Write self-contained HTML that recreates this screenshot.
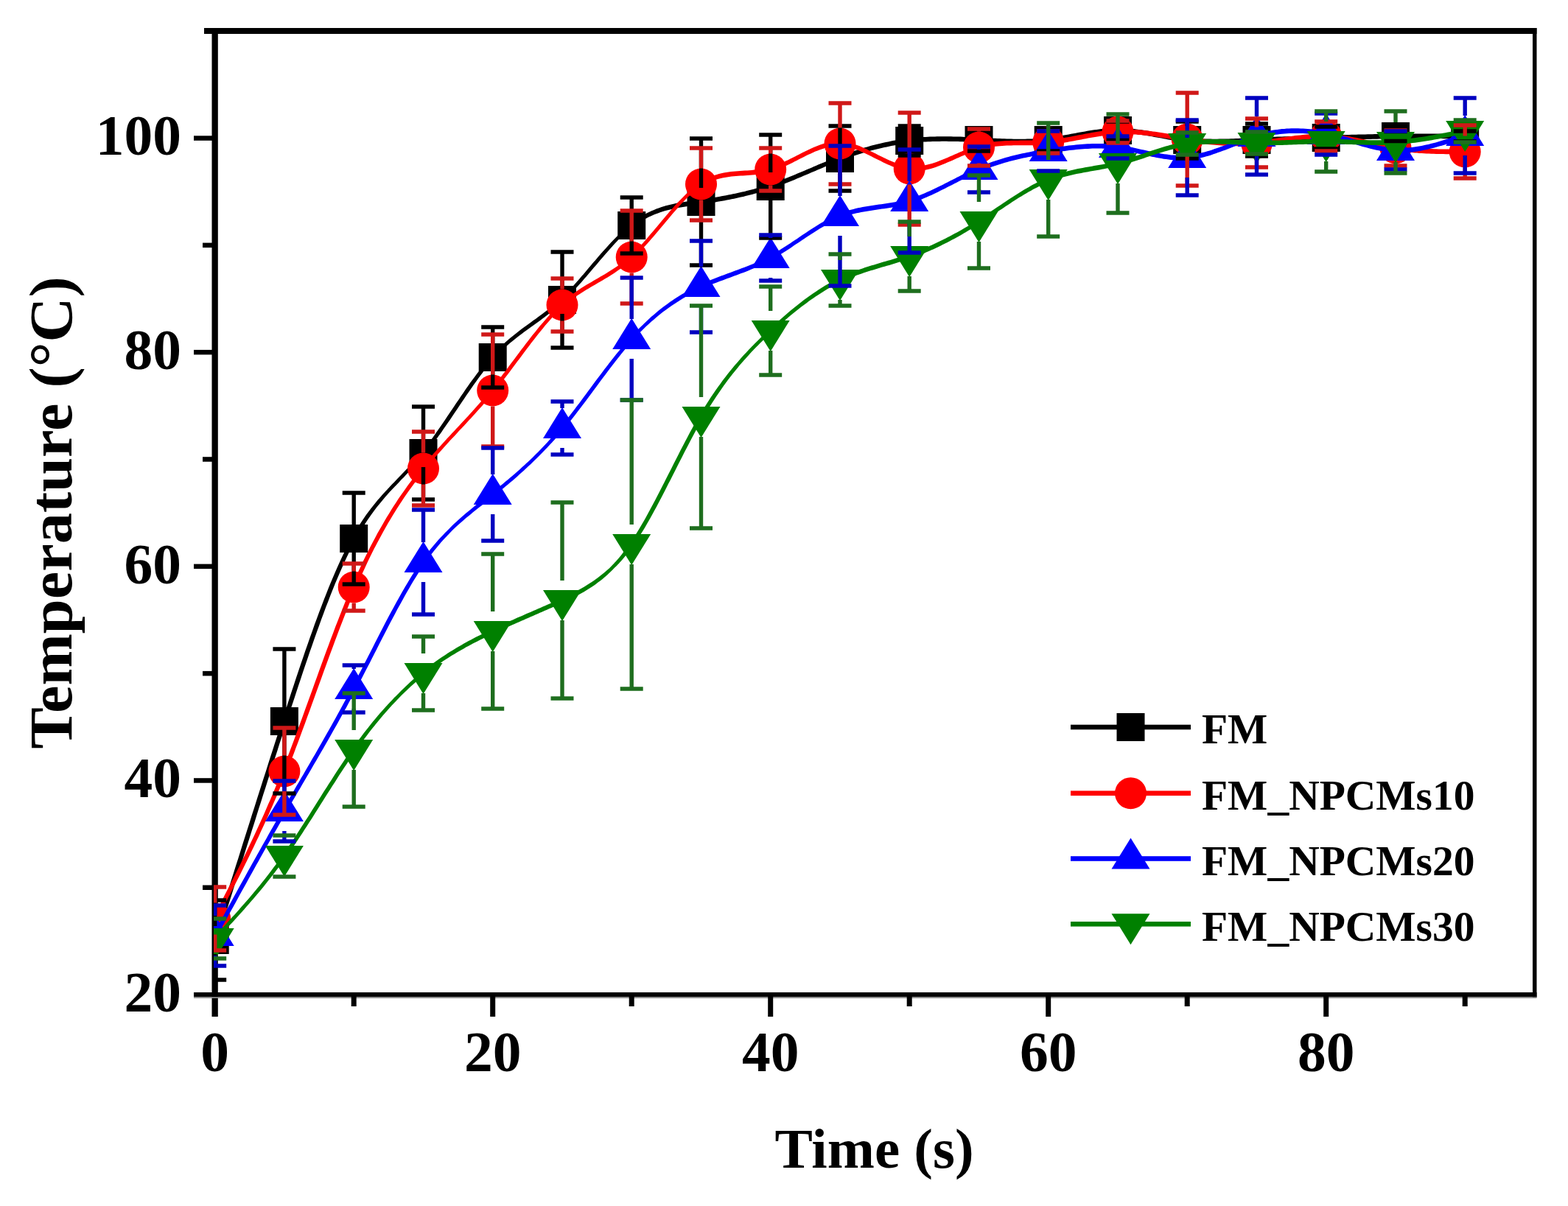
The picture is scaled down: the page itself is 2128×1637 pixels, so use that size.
<!DOCTYPE html><html><head><meta charset="utf-8"><style>html,body{margin:0;padding:0;background:#fff;overflow:hidden}svg{display:block}</style></head><body><svg width="2128" height="1637" viewBox="0 0 2128 1637"><rect width="2128" height="1637" fill="#fff"/><g fill="#000">
<rect x="287.5" y="38" width="8.3" height="1342"/>
<rect x="277" y="38" width="1808.5" height="8"/>
<rect x="2080" y="38" width="5.5" height="1316"/>
<rect x="263" y="1347" width="1822.5" height="6.2"/>
<rect x="263" y="1353.2" width="1822.5" height="1.8" fill="#8a8a8a"/>
<rect x="263" y="1056.2" width="26" height="6.5"/>
<rect x="263" y="765.6" width="26" height="6.5"/>
<rect x="263" y="474.9" width="26" height="6.5"/>
<rect x="263" y="184.3" width="26" height="6.5"/>
<rect x="275" y="1201.5" width="14" height="6.5"/>
<rect x="275" y="910.9" width="14" height="6.5"/>
<rect x="275" y="620.2" width="14" height="6.5"/>
<rect x="275" y="329.6" width="14" height="6.5"/>
<rect x="665.2" y="1350" width="7" height="30"/>
<rect x="1042.2" y="1350" width="7" height="30"/>
<rect x="1419.2" y="1350" width="7" height="30"/>
<rect x="1796.2" y="1350" width="7" height="30"/>
<rect x="476.7" y="1350" width="7" height="16"/>
<rect x="853.7" y="1350" width="7" height="16"/>
<rect x="1230.7" y="1350" width="7" height="16"/>
<rect x="1607.7" y="1350" width="7" height="16"/>
<rect x="1984.7" y="1350" width="7" height="16"/>
</g>
<defs><clipPath id="pc"><rect x="290.0" y="42.0" width="1792.5" height="1308.0"/></clipPath></defs>
<g clip-path="url(#pc)">
<path d="M294.7,1276.9 L297.8,1266.9 L301.0,1256.9 L304.1,1246.9 L307.3,1236.9 L310.4,1226.9 L313.6,1217.0 L316.7,1207.0 L319.8,1197.0 L323.0,1187.0 L326.1,1177.0 L329.3,1167.1 L332.4,1157.1 L335.5,1147.2 L338.7,1137.2 L341.8,1127.3 L345.0,1117.4 L348.1,1107.5 L351.2,1097.6 L354.4,1087.7 L357.5,1077.8 L360.7,1068.0 L363.8,1058.1 L367.0,1048.3 L370.1,1038.5 L373.2,1028.7 L376.4,1018.9 L379.5,1009.1 L382.7,999.4 L385.8,989.7 L388.9,980.0 L392.1,970.3 L395.2,960.6 L398.4,951.0 L401.5,941.4 L404.6,931.9 L407.8,922.4 L410.9,913.1 L414.0,903.7 L417.2,894.5 L420.3,885.3 L423.5,876.3 L426.6,867.3 L429.7,858.5 L432.9,849.7 L436.0,841.1 L439.1,832.7 L442.2,824.3 L445.4,816.2 L448.5,808.1 L451.6,800.3 L454.7,792.6 L457.9,785.1 L461.0,777.8 L464.1,770.7 L467.2,763.7 L470.3,757.0 L473.4,750.5 L476.5,744.2 L479.6,738.2 L482.7,732.4 L485.8,726.8 L488.9,721.5 L492.0,716.4 L495.1,711.5 L498.2,706.8 L501.3,702.2 L504.3,697.9 L507.4,693.7 L510.5,689.6 L513.6,685.7 L516.7,681.9 L519.8,678.2 L522.9,674.6 L526.0,671.1 L529.1,667.6 L532.2,664.3 L535.3,660.9 L538.5,657.7 L541.6,654.4 L544.7,651.1 L547.9,647.9 L551.0,644.6 L554.2,641.3 L557.4,638.0 L560.5,634.6 L563.7,631.2 L566.9,627.7 L570.1,624.1 L573.2,620.4 L576.4,616.6 L579.6,612.7 L582.8,608.7 L586.0,604.5 L589.2,600.3 L592.3,596.0 L595.5,591.6 L598.7,587.2 L601.8,582.6 L605.0,578.1 L608.1,573.5 L611.3,568.9 L614.4,564.2 L617.6,559.5 L620.7,554.9 L623.8,550.2 L627.0,545.5 L630.1,540.9 L633.2,536.3 L636.4,531.7 L639.5,527.2 L642.6,522.8 L645.7,518.4 L648.9,514.1 L652.0,509.8 L655.1,505.7 L658.2,501.6 L661.3,497.7 L664.4,493.9 L667.4,490.2 L670.5,486.6 L673.6,483.2 L676.7,479.9 L679.8,476.8 L682.9,473.8 L686.1,471.0 L689.2,468.2 L692.3,465.5 L695.5,462.9 L698.6,460.4 L701.7,457.9 L704.9,455.5 L708.0,453.2 L711.1,450.8 L714.3,448.5 L717.4,446.3 L720.5,444.0 L723.7,441.7 L726.8,439.5 L730.0,437.2 L733.1,434.9 L736.3,432.5 L739.4,430.2 L742.6,427.7 L745.7,425.3 L748.9,422.7 L752.0,420.1 L755.2,417.4 L758.3,414.6 L761.5,411.7 L764.6,408.7 L767.7,405.6 L770.9,402.5 L774.1,399.2 L777.3,395.9 L780.5,392.5 L783.6,389.0 L786.8,385.5 L790.0,381.9 L793.1,378.3 L796.3,374.7 L799.4,371.0 L802.6,367.3 L805.7,363.6 L808.9,359.9 L812.0,356.2 L815.1,352.5 L818.2,348.9 L821.4,345.3 L824.5,341.7 L827.6,338.2 L830.7,334.7 L833.8,331.3 L836.9,328.0 L840.0,324.8 L843.1,321.7 L846.3,318.7 L849.4,315.8 L852.6,313.1 L855.7,310.5 L858.8,308.0 L861.9,305.7 L865.0,303.6 L868.1,301.5 L871.2,299.6 L874.3,297.8 L877.4,296.2 L880.5,294.6 L883.6,293.2 L886.7,291.8 L889.8,290.5 L892.8,289.4 L895.9,288.3 L899.0,287.3 L902.1,286.3 L905.2,285.5 L908.3,284.7 L911.4,283.9 L914.4,283.2 L917.5,282.6 L920.6,282.0 L923.7,281.4 L926.9,280.9 L930.0,280.4 L933.1,279.9 L936.2,279.4 L939.3,279.0 L942.5,278.5 L945.6,278.1 L948.8,277.7 L951.9,277.2 L955.1,276.8 L958.2,276.3 L961.4,275.9 L964.5,275.4 L967.7,274.9 L970.8,274.4 L974.0,273.8 L977.1,273.3 L980.3,272.7 L983.5,272.2 L986.6,271.6 L989.8,271.0 L992.9,270.3 L996.1,269.7 L999.3,269.0 L1002.4,268.3 L1005.6,267.6 L1008.7,266.9 L1011.9,266.1 L1015.1,265.3 L1018.2,264.5 L1021.4,263.7 L1024.6,262.8 L1027.7,261.9 L1030.9,261.0 L1034.0,260.0 L1037.2,259.1 L1040.4,258.1 L1043.5,257.0 L1046.7,256.0 L1049.9,254.9 L1053.0,253.7 L1056.2,252.6 L1059.4,251.4 L1062.5,250.2 L1065.7,249.0 L1068.8,247.7 L1072.0,246.5 L1075.1,245.2 L1078.3,243.9 L1081.4,242.6 L1084.6,241.3 L1087.7,239.9 L1090.9,238.6 L1094.0,237.3 L1097.2,235.9 L1100.3,234.6 L1103.4,233.2 L1106.6,231.9 L1109.7,230.6 L1112.9,229.2 L1116.0,227.9 L1119.1,226.6 L1122.3,225.3 L1125.4,224.0 L1128.5,222.8 L1131.7,221.5 L1134.8,220.3 L1137.9,219.1 L1141.0,217.9 L1144.2,216.7 L1147.3,215.6 L1150.4,214.5 L1153.5,213.4 L1156.7,212.3 L1159.8,211.3 L1162.9,210.2 L1166.0,209.2 L1169.2,208.3 L1172.3,207.3 L1175.4,206.4 L1178.5,205.5 L1181.6,204.6 L1184.8,203.8 L1187.9,203.0 L1191.0,202.2 L1194.1,201.5 L1197.2,200.7 L1200.3,200.0 L1203.5,199.4 L1206.6,198.7 L1209.7,198.1 L1212.8,197.5 L1215.9,197.0 L1219.0,196.4 L1222.1,195.9 L1225.2,195.5 L1228.4,195.0 L1231.5,194.6 L1234.6,194.3 L1237.7,193.9 L1240.8,193.6 L1243.9,193.3 L1247.0,193.1 L1250.1,192.8 L1253.3,192.6 L1256.4,192.4 L1259.5,192.3 L1262.6,192.2 L1265.7,192.1 L1268.8,192.0 L1272.0,191.9 L1275.1,191.9 L1278.2,191.8 L1281.3,191.8 L1284.4,191.8 L1287.6,191.9 L1290.7,191.9 L1293.8,192.0 L1297.0,192.0 L1300.1,192.1 L1303.2,192.2 L1306.3,192.3 L1309.5,192.4 L1312.6,192.6 L1315.7,192.7 L1318.9,192.8 L1322.0,193.0 L1325.1,193.1 L1328.3,193.3 L1331.4,193.5 L1334.6,193.6 L1337.7,193.8 L1340.8,193.9 L1344.0,194.1 L1347.1,194.2 L1350.3,194.4 L1353.4,194.5 L1356.6,194.7 L1359.7,194.8 L1362.9,194.9 L1366.0,195.0 L1369.2,195.1 L1372.4,195.2 L1375.5,195.3 L1378.7,195.3 L1381.8,195.3 L1385.0,195.3 L1388.2,195.3 L1391.3,195.3 L1394.5,195.2 L1397.7,195.1 L1400.8,195.0 L1404.0,194.8 L1407.2,194.7 L1410.4,194.5 L1413.5,194.2 L1416.7,193.9 L1419.9,193.6 L1423.1,193.3 L1426.3,192.9 L1429.4,192.4 L1432.6,192.0 L1435.8,191.5 L1438.9,191.0 L1442.1,190.5 L1445.3,189.9 L1448.4,189.3 L1451.6,188.8 L1454.7,188.2 L1457.8,187.6 L1461.0,187.0 L1464.1,186.5 L1467.3,185.9 L1470.4,185.3 L1473.5,184.8 L1476.6,184.2 L1479.8,183.7 L1482.9,183.2 L1486.0,182.8 L1489.1,182.4 L1492.2,182.0 L1495.3,181.6 L1498.4,181.3 L1501.5,181.0 L1504.6,180.7 L1507.7,180.6 L1510.8,180.4 L1513.9,180.3 L1516.9,180.3 L1520.0,180.3 L1523.1,180.4 L1526.2,180.6 L1529.3,180.8 L1532.4,181.0 L1535.5,181.3 L1538.6,181.6 L1541.7,182.0 L1544.8,182.4 L1547.9,182.8 L1551.0,183.3 L1554.1,183.8 L1557.3,184.3 L1560.4,184.8 L1563.5,185.3 L1566.6,185.9 L1569.8,186.5 L1572.9,187.1 L1576.1,187.6 L1579.2,188.2 L1582.3,188.8 L1585.5,189.4 L1588.7,189.9 L1591.8,190.5 L1595.0,191.0 L1598.1,191.5 L1601.3,192.0 L1604.5,192.4 L1607.6,192.9 L1610.8,193.3 L1614.0,193.6 L1617.2,193.9 L1620.4,194.2 L1623.5,194.4 L1626.7,194.6 L1629.9,194.8 L1633.1,195.0 L1636.2,195.1 L1639.4,195.2 L1642.6,195.2 L1645.7,195.3 L1648.9,195.3 L1652.1,195.3 L1655.2,195.2 L1658.4,195.2 L1661.5,195.1 L1664.7,195.1 L1667.9,195.0 L1671.0,194.9 L1674.2,194.7 L1677.3,194.6 L1680.5,194.5 L1683.6,194.3 L1686.8,194.2 L1689.9,194.0 L1693.0,193.9 L1696.2,193.7 L1699.3,193.6 L1702.5,193.4 L1705.6,193.3 L1708.7,193.2 L1711.9,193.0 L1715.0,192.9 L1718.2,192.7 L1721.3,192.6 L1724.4,192.5 L1727.6,192.4 L1730.7,192.3 L1733.8,192.2 L1737.0,192.1 L1740.1,191.9 L1743.3,191.8 L1746.4,191.7 L1749.5,191.6 L1752.7,191.6 L1755.8,191.5 L1759.0,191.4 L1762.1,191.3 L1765.2,191.2 L1768.4,191.1 L1771.5,191.0 L1774.7,190.9 L1777.8,190.9 L1780.9,190.8 L1784.1,190.7 L1787.2,190.6 L1790.4,190.5 L1793.5,190.5 L1796.6,190.4 L1799.8,190.3 L1802.9,190.2 L1806.1,190.1 L1809.2,190.1 L1812.4,190.0 L1815.5,189.9 L1818.6,189.8 L1821.8,189.7 L1824.9,189.7 L1828.1,189.6 L1831.2,189.5 L1834.3,189.4 L1837.5,189.3 L1840.6,189.3 L1843.8,189.2 L1846.9,189.1 L1850.0,189.1 L1853.2,189.0 L1856.3,188.9 L1859.5,188.9 L1862.6,188.8 L1865.7,188.7 L1868.9,188.7 L1872.0,188.6 L1875.2,188.6 L1878.3,188.5 L1881.4,188.5 L1884.6,188.4 L1887.7,188.4 L1890.8,188.3 L1894.0,188.3 L1897.2,188.3 L1900.5,188.2 L1903.7,188.2 L1907.0,188.2 L1910.2,188.2 L1913.5,188.1 L1916.7,188.1 L1920.0,188.1 L1923.2,188.1 L1926.5,188.1 L1929.7,188.1 L1933.0,188.1 L1936.2,188.1 L1939.4,188.1 L1942.7,188.1 L1945.9,188.1 L1949.2,188.1 L1952.4,188.1 L1955.7,188.1 L1958.9,188.2 L1962.2,188.2 L1965.4,188.2 L1968.7,188.2 L1971.9,188.2 L1975.2,188.2 L1978.4,188.2 L1981.7,188.3 L1984.9,188.3 L1988.2,188.3 L1988.2,181.7 L1985.0,181.7 L1981.7,181.7 L1978.5,181.6 L1975.2,181.6 L1972.0,181.6 L1968.7,181.6 L1965.5,181.6 L1962.2,181.6 L1959.0,181.6 L1955.7,181.5 L1952.5,181.5 L1949.2,181.5 L1946.0,181.5 L1942.7,181.5 L1939.5,181.5 L1936.2,181.5 L1932.9,181.5 L1929.7,181.5 L1926.4,181.5 L1923.2,181.5 L1919.9,181.5 L1916.7,181.5 L1913.4,181.5 L1910.2,181.6 L1906.9,181.6 L1903.7,181.6 L1900.4,181.6 L1897.2,181.7 L1893.9,181.7 L1890.8,181.7 L1887.6,181.8 L1884.5,181.8 L1881.3,181.9 L1878.2,181.9 L1875.0,182.0 L1871.9,182.0 L1868.8,182.1 L1865.6,182.1 L1862.5,182.2 L1859.3,182.3 L1856.2,182.3 L1853.0,182.4 L1849.9,182.5 L1846.8,182.5 L1843.6,182.6 L1840.5,182.7 L1837.3,182.8 L1834.2,182.8 L1831.0,182.9 L1827.9,183.0 L1824.8,183.1 L1821.6,183.1 L1818.5,183.2 L1815.3,183.3 L1812.2,183.4 L1809.0,183.5 L1805.9,183.5 L1802.8,183.6 L1799.6,183.7 L1796.5,183.8 L1793.3,183.9 L1790.2,183.9 L1787.0,184.0 L1783.9,184.1 L1780.8,184.2 L1777.6,184.3 L1774.5,184.3 L1771.3,184.4 L1768.2,184.5 L1765.1,184.6 L1761.9,184.7 L1758.8,184.8 L1755.6,184.9 L1752.5,185.0 L1749.3,185.1 L1746.2,185.2 L1743.0,185.3 L1739.9,185.4 L1736.8,185.5 L1733.6,185.6 L1730.5,185.7 L1727.3,185.8 L1724.2,185.9 L1721.0,186.0 L1717.9,186.2 L1714.7,186.3 L1711.6,186.4 L1708.4,186.6 L1705.3,186.7 L1702.2,186.9 L1699.0,187.0 L1695.9,187.2 L1692.7,187.3 L1689.6,187.5 L1686.4,187.6 L1683.3,187.8 L1680.2,187.9 L1677.0,188.0 L1673.9,188.2 L1670.8,188.3 L1667.6,188.4 L1664.5,188.5 L1661.4,188.5 L1658.3,188.6 L1655.1,188.6 L1652.0,188.7 L1648.9,188.7 L1645.8,188.7 L1642.7,188.6 L1639.6,188.6 L1636.4,188.5 L1633.3,188.4 L1630.2,188.2 L1627.1,188.1 L1624.0,187.9 L1620.9,187.6 L1617.8,187.4 L1614.7,187.1 L1611.6,186.7 L1608.5,186.4 L1605.4,186.0 L1602.2,185.5 L1599.1,185.1 L1596.0,184.6 L1592.9,184.1 L1589.8,183.5 L1586.6,183.0 L1583.5,182.4 L1580.4,181.8 L1577.2,181.3 L1574.1,180.7 L1570.9,180.1 L1567.8,179.5 L1564.6,179.0 L1561.5,178.4 L1558.3,177.8 L1555.2,177.3 L1552.0,176.8 L1548.8,176.3 L1545.7,175.9 L1542.5,175.5 L1539.3,175.1 L1536.1,174.7 L1532.9,174.4 L1529.8,174.2 L1526.6,174.0 L1523.4,173.8 L1520.2,173.7 L1517.0,173.7 L1513.7,173.7 L1510.5,173.8 L1507.3,174.0 L1504.2,174.2 L1501.0,174.4 L1497.8,174.7 L1494.6,175.1 L1491.4,175.5 L1488.2,175.9 L1485.1,176.3 L1481.9,176.8 L1478.7,177.3 L1475.6,177.8 L1472.4,178.4 L1469.3,178.9 L1466.1,179.5 L1463.0,180.1 L1459.8,180.7 L1456.7,181.2 L1453.5,181.8 L1450.4,182.4 L1447.3,183.0 L1444.1,183.5 L1441.0,184.0 L1437.9,184.6 L1434.8,185.1 L1431.6,185.5 L1428.5,186.0 L1425.4,186.4 L1422.3,186.7 L1419.2,187.1 L1416.1,187.4 L1413.0,187.7 L1409.9,187.9 L1406.8,188.1 L1403.7,188.3 L1400.6,188.4 L1397.5,188.5 L1394.3,188.6 L1391.2,188.7 L1388.1,188.7 L1385.0,188.7 L1381.9,188.7 L1378.8,188.7 L1375.6,188.7 L1372.5,188.6 L1369.4,188.5 L1366.3,188.4 L1363.1,188.3 L1360.0,188.2 L1356.9,188.1 L1353.7,188.0 L1350.6,187.8 L1347.5,187.7 L1344.3,187.5 L1341.2,187.4 L1338.0,187.2 L1334.9,187.0 L1331.8,186.9 L1328.6,186.7 L1325.5,186.6 L1322.3,186.4 L1319.2,186.3 L1316.0,186.1 L1312.9,186.0 L1309.7,185.9 L1306.6,185.7 L1303.4,185.6 L1300.3,185.5 L1297.1,185.4 L1294.0,185.4 L1290.8,185.3 L1287.6,185.3 L1284.5,185.2 L1281.3,185.2 L1278.2,185.2 L1275.0,185.3 L1271.8,185.3 L1268.7,185.4 L1265.5,185.5 L1262.3,185.6 L1259.2,185.7 L1256.0,185.9 L1252.8,186.0 L1249.7,186.3 L1246.5,186.5 L1243.3,186.8 L1240.2,187.1 L1237.0,187.4 L1233.8,187.7 L1230.6,188.1 L1227.5,188.6 L1224.3,189.0 L1221.1,189.5 L1218.0,190.0 L1214.8,190.6 L1211.6,191.1 L1208.4,191.7 L1205.3,192.4 L1202.1,193.0 L1198.9,193.7 L1195.8,194.5 L1192.6,195.2 L1189.4,196.0 L1186.3,196.8 L1183.1,197.6 L1179.9,198.5 L1176.8,199.4 L1173.6,200.3 L1170.5,201.3 L1167.3,202.2 L1164.1,203.2 L1161.0,204.3 L1157.8,205.3 L1154.7,206.4 L1151.5,207.5 L1148.3,208.6 L1145.2,209.8 L1142.0,210.9 L1138.9,212.1 L1135.7,213.3 L1132.5,214.6 L1129.4,215.8 L1126.2,217.1 L1123.1,218.4 L1119.9,219.7 L1116.8,221.0 L1113.6,222.3 L1110.5,223.6 L1107.3,225.0 L1104.2,226.3 L1101.1,227.7 L1097.9,229.0 L1094.8,230.3 L1091.6,231.7 L1088.5,233.0 L1085.4,234.3 L1082.2,235.6 L1079.1,236.9 L1076.0,238.2 L1072.8,239.5 L1069.7,240.8 L1066.6,242.0 L1063.4,243.2 L1060.3,244.4 L1057.2,245.6 L1054.1,246.8 L1050.9,247.9 L1047.8,249.0 L1044.7,250.0 L1041.6,251.1 L1038.5,252.1 L1035.3,253.1 L1032.2,254.0 L1029.1,254.9 L1026.0,255.8 L1022.9,256.7 L1019.7,257.5 L1016.6,258.3 L1013.5,259.1 L1010.4,259.9 L1007.3,260.6 L1004.1,261.3 L1001.0,262.0 L997.9,262.7 L994.8,263.3 L991.7,264.0 L988.5,264.6 L985.4,265.2 L982.3,265.8 L979.2,266.3 L976.0,266.9 L972.9,267.4 L969.8,267.9 L966.6,268.4 L963.5,268.9 L960.4,269.4 L957.3,269.9 L954.1,270.3 L951.0,270.8 L947.9,271.2 L944.7,271.6 L941.6,272.1 L938.4,272.5 L935.3,273.0 L932.1,273.4 L928.9,273.9 L925.8,274.4 L922.6,275.0 L919.4,275.6 L916.2,276.2 L913.1,276.9 L909.9,277.7 L906.7,278.5 L903.5,279.3 L900.3,280.3 L897.1,281.3 L893.9,282.4 L890.7,283.6 L887.5,284.9 L884.3,286.3 L881.1,287.8 L877.9,289.3 L874.7,291.1 L871.5,292.9 L868.3,294.8 L865.1,296.9 L861.9,299.1 L858.8,301.5 L855.6,304.0 L852.4,306.6 L849.3,309.3 L846.1,312.2 L843.0,315.2 L839.8,318.3 L836.7,321.5 L833.5,324.7 L830.3,328.0 L827.1,331.4 L824.0,334.9 L820.8,338.4 L817.6,342.0 L814.5,345.6 L811.3,349.3 L808.2,352.9 L805.0,356.6 L801.9,360.3 L798.7,364.0 L795.6,367.7 L792.5,371.4 L789.3,375.1 L786.2,378.7 L783.1,382.2 L780.0,385.8 L776.9,389.2 L773.8,392.6 L770.7,395.9 L767.6,399.2 L764.4,402.3 L761.3,405.3 L758.2,408.1 L755.0,410.9 L751.9,413.6 L748.8,416.2 L745.6,418.7 L742.5,421.2 L739.4,423.6 L736.2,426.0 L733.1,428.3 L730.0,430.6 L726.8,432.9 L723.7,435.1 L720.5,437.4 L717.4,439.7 L714.3,441.9 L711.1,444.2 L708.0,446.6 L704.8,449.0 L701.7,451.4 L698.5,453.9 L695.4,456.4 L692.2,459.0 L689.1,461.7 L685.9,464.5 L682.8,467.4 L679.6,470.4 L676.5,473.5 L673.3,476.6 L670.1,479.9 L666.9,483.4 L663.7,486.9 L660.5,490.6 L657.3,494.5 L654.1,498.4 L650.9,502.5 L647.7,506.7 L644.6,510.9 L641.4,515.2 L638.2,519.6 L635.1,524.1 L631.9,528.6 L628.8,533.2 L625.6,537.8 L622.5,542.5 L619.3,547.1 L616.2,551.8 L613.0,556.5 L609.9,561.1 L606.7,565.8 L603.6,570.4 L600.5,575.0 L597.4,579.6 L594.2,584.1 L591.1,588.5 L588.0,592.9 L584.9,597.2 L581.8,601.4 L578.7,605.5 L575.6,609.5 L572.5,613.4 L569.4,617.2 L566.3,620.8 L563.2,624.4 L560.1,627.9 L557.0,631.3 L553.8,634.7 L550.7,638.0 L547.6,641.3 L544.5,644.6 L541.3,647.8 L538.2,651.1 L535.0,654.4 L531.9,657.6 L528.7,661.0 L525.5,664.4 L522.4,667.8 L519.2,671.3 L516.0,674.9 L512.8,678.6 L509.6,682.5 L506.4,686.4 L503.2,690.5 L500.0,694.7 L496.8,699.1 L493.6,703.7 L490.4,708.5 L487.2,713.4 L484.1,718.6 L480.9,724.0 L477.7,729.6 L474.5,735.5 L471.3,741.6 L468.1,747.9 L464.9,754.5 L461.8,761.2 L458.6,768.2 L455.4,775.4 L452.3,782.7 L449.1,790.3 L445.9,798.0 L442.8,805.9 L439.6,813.9 L436.5,822.2 L433.3,830.5 L430.2,839.0 L427.0,847.6 L423.9,856.4 L420.7,865.2 L417.6,874.2 L414.4,883.3 L411.3,892.5 L408.1,901.7 L405.0,911.1 L401.8,920.5 L398.7,929.9 L395.5,939.5 L392.4,949.1 L389.3,958.7 L386.1,968.3 L383.0,978.0 L379.8,987.7 L376.7,997.5 L373.5,1007.2 L370.4,1017.0 L367.2,1026.8 L364.1,1036.6 L361.0,1046.4 L357.8,1056.2 L354.7,1066.1 L351.5,1075.9 L348.4,1085.8 L345.3,1095.7 L342.1,1105.6 L339.0,1115.5 L335.8,1125.4 L332.7,1135.3 L329.5,1145.3 L326.4,1155.2 L323.3,1165.2 L320.1,1175.1 L317.0,1185.1 L313.8,1195.1 L310.7,1205.1 L307.5,1215.1 L304.4,1225.1 L301.3,1235.1 L298.1,1245.1 L295.0,1255.1 L291.8,1265.1 L288.7,1275.1Z" fill="#000000"/>
<rect x="272.7" y="1257.0" width="38.0" height="38.0" fill="#000000"/>
<rect x="366.9" y="960.0" width="38.0" height="38.0" fill="#000000"/>
<rect x="461.2" y="712.0" width="38.0" height="38.0" fill="#000000"/>
<rect x="555.5" y="596.0" width="38.0" height="38.0" fill="#000000"/>
<rect x="649.7" y="466.0" width="38.0" height="38.0" fill="#000000"/>
<rect x="744.0" y="388.0" width="38.0" height="38.0" fill="#000000"/>
<rect x="838.2" y="287.0" width="38.0" height="38.0" fill="#000000"/>
<rect x="932.5" y="255.0" width="38.0" height="38.0" fill="#000000"/>
<rect x="1026.7" y="234.0" width="38.0" height="38.0" fill="#000000"/>
<rect x="1121.0" y="196.0" width="38.0" height="38.0" fill="#000000"/>
<rect x="1215.2" y="172.0" width="38.0" height="38.0" fill="#000000"/>
<rect x="1309.5" y="171.0" width="38.0" height="38.0" fill="#000000"/>
<rect x="1403.7" y="171.0" width="38.0" height="38.0" fill="#000000"/>
<rect x="1498.0" y="158.0" width="38.0" height="38.0" fill="#000000"/>
<rect x="1592.2" y="171.0" width="38.0" height="38.0" fill="#000000"/>
<rect x="1686.5" y="171.0" width="38.0" height="38.0" fill="#000000"/>
<rect x="1780.7" y="168.0" width="38.0" height="38.0" fill="#000000"/>
<rect x="1875.0" y="166.0" width="38.0" height="38.0" fill="#000000"/>
<rect x="1969.2" y="166.0" width="38.0" height="38.0" fill="#000000"/>
<path d="M294.3,1248.3 L297.4,1242.3 L300.6,1236.2 L303.7,1230.2 L306.9,1224.1 L310.0,1218.0 L313.2,1211.9 L316.3,1205.8 L319.5,1199.6 L322.6,1193.4 L325.8,1187.2 L328.9,1180.9 L332.1,1174.6 L335.2,1168.2 L338.4,1161.8 L341.5,1155.3 L344.7,1148.7 L347.8,1142.1 L351.0,1135.4 L354.1,1128.6 L357.3,1121.8 L360.4,1114.9 L363.6,1107.9 L366.7,1100.8 L369.9,1093.6 L373.0,1086.3 L376.2,1078.9 L379.3,1071.3 L382.5,1063.7 L385.6,1056.0 L388.8,1048.1 L392.0,1040.2 L395.1,1032.1 L398.3,1023.9 L401.4,1015.6 L404.6,1007.2 L407.7,998.8 L410.8,990.2 L414.0,981.7 L417.1,973.0 L420.3,964.4 L423.4,955.7 L426.6,947.0 L429.7,938.3 L432.9,929.6 L436.0,920.9 L439.1,912.2 L442.3,903.6 L445.4,895.0 L448.5,886.4 L451.7,877.9 L454.8,869.5 L458.0,861.1 L461.1,852.8 L464.2,844.7 L467.4,836.6 L470.5,828.6 L473.6,820.8 L476.7,813.1 L479.9,805.6 L483.0,798.2 L486.1,791.0 L489.2,783.9 L492.4,777.0 L495.5,770.2 L498.6,763.6 L501.7,757.1 L504.8,750.8 L507.9,744.6 L511.1,738.6 L514.2,732.7 L517.3,726.9 L520.4,721.2 L523.5,715.7 L526.6,710.3 L529.8,705.0 L532.9,699.8 L536.0,694.8 L539.1,689.8 L542.2,684.9 L545.3,680.2 L548.4,675.5 L551.5,671.0 L554.7,666.5 L557.8,662.2 L560.9,657.9 L564.0,653.7 L567.1,649.5 L570.2,645.5 L573.3,641.5 L576.4,637.6 L579.6,633.8 L582.7,630.0 L585.8,626.3 L588.9,622.6 L592.0,619.0 L595.1,615.5 L598.3,611.9 L601.4,608.4 L604.5,605.0 L607.7,601.5 L610.8,598.1 L613.9,594.7 L617.1,591.4 L620.2,588.0 L623.3,584.6 L626.5,581.3 L629.6,577.9 L632.8,574.5 L635.9,571.1 L639.1,567.7 L642.2,564.3 L645.4,560.8 L648.5,557.3 L651.7,553.8 L654.9,550.2 L658.0,546.6 L661.2,543.0 L664.4,539.2 L667.5,535.5 L670.7,531.6 L673.9,527.7 L677.0,523.7 L680.2,519.7 L683.3,515.6 L686.5,511.5 L689.6,507.4 L692.8,503.2 L695.9,499.0 L699.1,494.8 L702.2,490.6 L705.4,486.4 L708.5,482.2 L711.6,478.0 L714.8,473.8 L717.9,469.7 L721.0,465.6 L724.2,461.5 L727.3,457.5 L730.4,453.6 L733.5,449.7 L736.6,445.9 L739.7,442.1 L742.8,438.5 L745.9,434.9 L749.0,431.4 L752.1,428.0 L755.2,424.7 L758.3,421.6 L761.5,418.6 L764.6,415.8 L767.7,413.1 L770.9,410.6 L774.0,408.1 L777.1,405.8 L780.2,403.5 L783.3,401.3 L786.5,399.3 L789.6,397.2 L792.7,395.3 L795.8,393.3 L799.0,391.5 L802.1,389.6 L805.2,387.8 L808.4,386.0 L811.5,384.1 L814.7,382.3 L817.8,380.5 L820.9,378.6 L824.1,376.7 L827.3,374.8 L830.4,372.7 L833.6,370.7 L836.7,368.5 L839.9,366.3 L843.1,364.0 L846.2,361.6 L849.4,359.1 L852.5,356.4 L855.7,353.7 L858.8,350.8 L862.0,347.8 L865.1,344.6 L868.3,341.4 L871.5,338.1 L874.7,334.7 L877.9,331.2 L881.1,327.7 L884.2,324.0 L887.4,320.4 L890.5,316.7 L893.7,312.9 L896.8,309.2 L900.0,305.4 L903.1,301.7 L906.3,297.9 L909.4,294.2 L912.5,290.6 L915.6,286.9 L918.7,283.4 L921.8,279.9 L924.9,276.5 L928.0,273.2 L931.1,270.1 L934.2,267.0 L937.4,264.2 L940.5,261.5 L943.6,258.9 L946.8,256.5 L949.9,254.3 L953.0,252.3 L956.0,250.5 L959.1,248.9 L962.2,247.4 L965.2,246.1 L968.2,245.0 L971.3,244.0 L974.3,243.1 L977.4,242.3 L980.4,241.6 L983.5,241.0 L986.5,240.5 L989.6,240.0 L992.7,239.6 L995.8,239.3 L998.9,239.0 L1002.0,238.8 L1005.1,238.6 L1008.2,238.4 L1011.4,238.2 L1014.5,237.9 L1017.7,237.7 L1020.8,237.5 L1024.0,237.2 L1027.2,236.8 L1030.4,236.4 L1033.6,235.9 L1036.9,235.4 L1040.1,234.7 L1043.3,233.9 L1046.6,233.1 L1049.8,232.0 L1053.0,230.9 L1056.2,229.7 L1059.4,228.4 L1062.6,227.0 L1065.8,225.5 L1069.0,224.0 L1072.1,222.5 L1075.3,220.9 L1078.4,219.3 L1081.6,217.7 L1084.7,216.1 L1087.9,214.5 L1091.0,212.9 L1094.1,211.3 L1097.3,209.8 L1100.4,208.4 L1103.5,207.0 L1106.6,205.6 L1109.7,204.4 L1112.8,203.2 L1115.8,202.2 L1118.9,201.2 L1121.9,200.4 L1124.9,199.7 L1127.9,199.1 L1130.9,198.7 L1133.9,198.4 L1136.9,198.3 L1139.8,198.3 L1142.8,198.5 L1145.8,198.8 L1148.7,199.3 L1151.7,200.0 L1154.8,200.7 L1157.8,201.7 L1160.9,202.7 L1164.0,203.8 L1167.0,205.1 L1170.1,206.4 L1173.2,207.8 L1176.4,209.2 L1179.5,210.7 L1182.6,212.3 L1185.7,213.9 L1188.9,215.4 L1192.0,217.0 L1195.2,218.6 L1198.3,220.2 L1201.5,221.7 L1204.7,223.2 L1207.9,224.6 L1211.1,226.0 L1214.3,227.2 L1217.5,228.4 L1220.7,229.5 L1224.0,230.4 L1227.3,231.2 L1230.6,231.8 L1233.9,232.3 L1237.2,232.5 L1240.5,232.6 L1243.8,232.5 L1247.1,232.3 L1250.4,231.9 L1253.6,231.3 L1256.9,230.6 L1260.1,229.8 L1263.3,229.0 L1266.6,228.0 L1269.8,226.9 L1273.0,225.8 L1276.1,224.5 L1279.3,223.3 L1282.5,222.0 L1285.7,220.6 L1288.8,219.3 L1292.0,217.9 L1295.1,216.5 L1298.3,215.1 L1301.4,213.7 L1304.5,212.3 L1307.7,211.0 L1310.8,209.7 L1313.9,208.4 L1317.0,207.2 L1320.1,206.0 L1323.2,205.0 L1326.3,204.0 L1329.3,203.0 L1332.4,202.2 L1335.5,201.5 L1338.5,200.8 L1341.6,200.2 L1344.7,199.7 L1347.8,199.2 L1350.8,198.8 L1353.9,198.5 L1357.0,198.2 L1360.1,198.0 L1363.2,197.8 L1366.3,197.6 L1369.4,197.5 L1372.5,197.4 L1375.6,197.3 L1378.8,197.3 L1381.9,197.3 L1385.0,197.2 L1388.1,197.2 L1391.3,197.2 L1394.4,197.2 L1397.6,197.2 L1400.7,197.2 L1403.9,197.1 L1407.1,197.1 L1410.2,197.0 L1413.4,196.9 L1416.6,196.7 L1419.8,196.5 L1423.0,196.3 L1426.2,196.0 L1429.3,195.7 L1432.5,195.3 L1435.7,194.9 L1438.9,194.4 L1442.0,193.9 L1445.2,193.4 L1448.4,192.9 L1451.5,192.3 L1454.7,191.8 L1457.8,191.2 L1461.0,190.6 L1464.1,190.0 L1467.3,189.4 L1470.4,188.8 L1473.6,188.2 L1476.7,187.6 L1479.8,187.0 L1483.0,186.5 L1486.1,186.0 L1489.2,185.4 L1492.3,184.9 L1495.4,184.5 L1498.5,184.0 L1501.6,183.6 L1504.7,183.3 L1507.8,183.0 L1510.9,182.7 L1514.0,182.5 L1517.1,182.3 L1520.2,182.2 L1523.3,182.1 L1526.4,182.1 L1529.5,182.1 L1532.6,182.2 L1535.7,182.3 L1538.8,182.4 L1541.9,182.6 L1545.0,182.9 L1548.1,183.1 L1551.2,183.4 L1554.3,183.7 L1557.4,184.1 L1560.5,184.5 L1563.6,184.9 L1566.8,185.3 L1569.9,185.7 L1573.0,186.2 L1576.1,186.7 L1579.3,187.2 L1582.4,187.7 L1585.5,188.2 L1588.7,188.7 L1591.8,189.2 L1595.0,189.7 L1598.1,190.2 L1601.3,190.7 L1604.4,191.2 L1607.6,191.7 L1610.7,192.2 L1613.9,192.7 L1617.0,193.2 L1620.2,193.6 L1623.3,194.0 L1626.5,194.4 L1629.7,194.8 L1632.8,195.2 L1636.0,195.6 L1639.1,195.9 L1642.3,196.2 L1645.5,196.5 L1648.6,196.8 L1651.8,197.1 L1655.0,197.3 L1658.1,197.5 L1661.3,197.7 L1664.5,197.8 L1667.6,198.0 L1670.8,198.1 L1674.0,198.2 L1677.1,198.2 L1680.3,198.2 L1683.5,198.2 L1686.7,198.2 L1689.8,198.1 L1693.0,198.0 L1696.2,197.9 L1699.4,197.7 L1702.5,197.5 L1705.7,197.3 L1708.9,197.0 L1712.1,196.7 L1715.2,196.4 L1718.4,196.0 L1721.6,195.6 L1724.7,195.3 L1727.9,194.8 L1731.0,194.4 L1734.2,194.0 L1737.3,193.6 L1740.5,193.1 L1743.6,192.7 L1746.7,192.2 L1749.9,191.8 L1753.0,191.4 L1756.1,191.0 L1759.3,190.6 L1762.4,190.2 L1765.5,189.9 L1768.6,189.6 L1771.7,189.3 L1774.8,189.0 L1777.9,188.8 L1781.0,188.6 L1784.1,188.4 L1787.2,188.3 L1790.3,188.2 L1793.4,188.2 L1796.5,188.2 L1799.6,188.3 L1802.7,188.4 L1805.8,188.6 L1808.8,188.9 L1811.9,189.2 L1815.0,189.5 L1818.1,189.9 L1821.2,190.3 L1824.3,190.7 L1827.4,191.2 L1830.6,191.7 L1833.7,192.3 L1836.8,192.9 L1839.9,193.5 L1843.0,194.1 L1846.2,194.7 L1849.3,195.4 L1852.4,196.0 L1855.6,196.7 L1858.7,197.4 L1861.9,198.1 L1865.0,198.7 L1868.2,199.4 L1871.3,200.1 L1874.5,200.7 L1877.6,201.3 L1880.8,202.0 L1883.9,202.6 L1887.1,203.1 L1890.3,203.7 L1893.4,204.2 L1896.7,204.7 L1900.0,205.2 L1903.3,205.6 L1906.6,206.0 L1909.8,206.4 L1913.1,206.8 L1916.4,207.1 L1919.7,207.4 L1923.0,207.6 L1926.2,207.9 L1929.5,208.1 L1932.8,208.3 L1936.0,208.4 L1939.3,208.6 L1942.6,208.7 L1945.8,208.8 L1949.1,208.9 L1952.4,209.0 L1955.6,209.1 L1958.9,209.1 L1962.2,209.2 L1965.4,209.2 L1968.7,209.2 L1971.9,209.3 L1975.2,209.3 L1978.4,209.3 L1981.7,209.3 L1984.9,209.3 L1988.2,209.3 L1988.2,202.7 L1985.0,202.7 L1981.7,202.7 L1978.5,202.7 L1975.2,202.7 L1972.0,202.7 L1968.7,202.6 L1965.5,202.6 L1962.2,202.6 L1959.0,202.5 L1955.8,202.5 L1952.5,202.4 L1949.3,202.3 L1946.1,202.2 L1942.8,202.1 L1939.6,202.0 L1936.4,201.8 L1933.1,201.7 L1929.9,201.5 L1926.7,201.3 L1923.4,201.1 L1920.2,200.8 L1917.0,200.5 L1913.8,200.2 L1910.6,199.9 L1907.3,199.5 L1904.1,199.1 L1900.9,198.7 L1897.7,198.3 L1894.5,197.8 L1891.3,197.3 L1888.2,196.7 L1885.1,196.2 L1882.0,195.6 L1878.9,195.0 L1875.7,194.4 L1872.6,193.7 L1869.5,193.1 L1866.3,192.4 L1863.2,191.7 L1860.1,191.1 L1856.9,190.4 L1853.8,189.7 L1850.6,189.1 L1847.5,188.4 L1844.3,187.7 L1841.2,187.1 L1838.0,186.5 L1834.8,185.9 L1831.7,185.3 L1828.5,184.8 L1825.3,184.3 L1822.2,183.8 L1819.0,183.4 L1815.8,183.0 L1812.6,182.6 L1809.4,182.3 L1806.2,182.1 L1803.0,181.9 L1799.8,181.7 L1796.6,181.6 L1793.4,181.6 L1790.2,181.6 L1787.0,181.7 L1783.8,181.8 L1780.7,182.0 L1777.5,182.2 L1774.3,182.4 L1771.1,182.7 L1768.0,183.0 L1764.8,183.4 L1761.6,183.7 L1758.5,184.1 L1755.3,184.5 L1752.1,184.9 L1749.0,185.3 L1745.8,185.8 L1742.7,186.2 L1739.6,186.6 L1736.4,187.1 L1733.3,187.5 L1730.1,187.9 L1727.0,188.4 L1723.9,188.8 L1720.8,189.1 L1717.6,189.5 L1714.5,189.9 L1711.4,190.2 L1708.3,190.5 L1705.2,190.7 L1702.1,190.9 L1699.0,191.1 L1695.9,191.3 L1692.8,191.4 L1689.7,191.5 L1686.5,191.6 L1683.4,191.6 L1680.3,191.6 L1677.2,191.6 L1674.1,191.6 L1671.0,191.5 L1667.9,191.4 L1664.8,191.3 L1661.6,191.1 L1658.5,190.9 L1655.4,190.7 L1652.3,190.5 L1649.2,190.2 L1646.1,190.0 L1642.9,189.7 L1639.8,189.4 L1636.7,189.0 L1633.6,188.7 L1630.4,188.3 L1627.3,187.9 L1624.2,187.5 L1621.1,187.1 L1617.9,186.7 L1614.8,186.2 L1611.7,185.8 L1608.6,185.3 L1605.4,184.8 L1602.3,184.3 L1599.2,183.8 L1596.0,183.3 L1592.9,182.8 L1589.7,182.3 L1586.6,181.7 L1583.4,181.2 L1580.3,180.7 L1577.1,180.2 L1574.0,179.8 L1570.8,179.3 L1567.7,178.8 L1564.5,178.4 L1561.3,178.0 L1558.2,177.6 L1555.0,177.2 L1551.8,176.9 L1548.7,176.6 L1545.5,176.3 L1542.3,176.1 L1539.1,175.9 L1535.9,175.7 L1532.8,175.6 L1529.6,175.5 L1526.4,175.5 L1523.2,175.5 L1520.0,175.6 L1516.8,175.7 L1513.6,175.9 L1510.4,176.1 L1507.2,176.4 L1504.0,176.8 L1500.8,177.1 L1497.7,177.6 L1494.5,178.0 L1491.3,178.5 L1488.1,179.0 L1485.0,179.5 L1481.8,180.1 L1478.7,180.7 L1475.5,181.2 L1472.4,181.8 L1469.2,182.4 L1466.1,183.0 L1462.9,183.6 L1459.8,184.2 L1456.7,184.8 L1453.5,185.4 L1450.4,185.9 L1447.3,186.5 L1444.2,187.0 L1441.1,187.5 L1437.9,187.9 L1434.8,188.4 L1431.7,188.8 L1428.6,189.1 L1425.5,189.4 L1422.4,189.7 L1419.3,189.9 L1416.2,190.1 L1413.1,190.3 L1410.0,190.4 L1406.9,190.5 L1403.8,190.5 L1400.7,190.6 L1397.5,190.6 L1394.4,190.6 L1391.3,190.6 L1388.1,190.6 L1385.0,190.6 L1381.8,190.7 L1378.7,190.7 L1375.5,190.7 L1372.3,190.8 L1369.2,190.9 L1366.0,191.0 L1362.8,191.2 L1359.6,191.4 L1356.4,191.7 L1353.2,192.0 L1350.0,192.3 L1346.8,192.8 L1343.6,193.3 L1340.4,193.8 L1337.2,194.5 L1334.0,195.2 L1330.8,196.0 L1327.6,197.0 L1324.4,198.0 L1321.1,199.1 L1318.0,200.2 L1314.8,201.4 L1311.6,202.7 L1308.4,204.0 L1305.3,205.4 L1302.1,206.8 L1299.0,208.2 L1295.8,209.6 L1292.7,211.0 L1289.5,212.3 L1286.4,213.7 L1283.3,215.0 L1280.2,216.3 L1277.0,217.6 L1273.9,218.8 L1270.8,219.9 L1267.8,221.0 L1264.7,222.0 L1261.6,222.8 L1258.6,223.6 L1255.5,224.3 L1252.5,224.9 L1249.5,225.4 L1246.5,225.7 L1243.5,225.9 L1240.5,226.0 L1237.5,225.9 L1234.5,225.7 L1231.6,225.4 L1228.6,224.9 L1225.6,224.2 L1222.5,223.4 L1219.5,222.5 L1216.4,221.4 L1213.3,220.3 L1210.3,219.0 L1207.2,217.7 L1204.0,216.3 L1200.9,214.8 L1197.8,213.3 L1194.7,211.8 L1191.5,210.2 L1188.4,208.6 L1185.3,207.0 L1182.1,205.4 L1178.9,203.9 L1175.8,202.3 L1172.6,200.9 L1169.4,199.5 L1166.2,198.1 L1163.0,196.9 L1159.8,195.7 L1156.5,194.7 L1153.3,193.7 L1150.0,193.0 L1146.7,192.4 L1143.4,191.9 L1140.1,191.7 L1136.7,191.7 L1133.4,191.8 L1130.1,192.2 L1126.8,192.7 L1123.5,193.4 L1120.3,194.2 L1117.0,195.2 L1113.8,196.3 L1110.6,197.4 L1107.4,198.7 L1104.2,200.1 L1101.0,201.5 L1097.8,203.0 L1094.7,204.5 L1091.5,206.0 L1088.4,207.6 L1085.2,209.2 L1082.1,210.8 L1078.9,212.5 L1075.8,214.1 L1072.7,215.6 L1069.5,217.2 L1066.4,218.6 L1063.3,220.1 L1060.2,221.4 L1057.1,222.7 L1054.0,223.9 L1050.9,225.0 L1047.9,226.1 L1044.8,226.9 L1041.8,227.7 L1038.7,228.4 L1035.7,229.0 L1032.6,229.5 L1029.6,229.9 L1026.5,230.3 L1023.4,230.6 L1020.3,230.9 L1017.2,231.2 L1014.1,231.4 L1010.9,231.6 L1007.8,231.8 L1004.6,232.0 L1001.5,232.2 L998.3,232.5 L995.1,232.8 L991.9,233.1 L988.7,233.5 L985.5,234.0 L982.3,234.6 L979.0,235.3 L975.8,236.1 L972.6,237.0 L969.3,238.0 L966.1,239.2 L962.8,240.5 L959.6,242.1 L956.4,243.7 L953.2,245.6 L949.9,247.7 L946.8,249.9 L943.6,252.4 L940.4,254.9 L937.2,257.7 L934.1,260.6 L931.0,263.6 L927.8,266.7 L924.6,269.9 L921.4,273.2 L918.2,276.6 L915.1,280.1 L911.9,283.7 L908.7,287.3 L905.6,291.0 L902.4,294.7 L899.2,298.4 L896.1,302.2 L893.0,305.9 L889.8,309.7 L886.7,313.4 L883.6,317.1 L880.4,320.8 L877.3,324.4 L874.2,327.9 L871.1,331.4 L868.0,334.8 L864.9,338.1 L861.8,341.3 L858.7,344.3 L855.6,347.2 L852.4,349.9 L849.3,352.6 L846.2,355.0 L843.0,357.4 L839.9,359.7 L836.8,361.9 L833.7,364.0 L830.6,366.1 L827.4,368.0 L824.3,370.0 L821.2,371.9 L818.1,373.7 L814.9,375.6 L811.8,377.4 L808.6,379.2 L805.5,381.0 L802.4,382.9 L799.2,384.7 L796.1,386.6 L792.9,388.6 L789.7,390.5 L786.6,392.6 L783.4,394.7 L780.3,396.9 L777.1,399.2 L773.9,401.5 L770.8,404.0 L767.6,406.6 L764.5,409.3 L761.3,412.2 L758.2,415.2 L755.0,418.3 L751.8,421.4 L748.6,424.7 L745.4,428.1 L742.3,431.6 L739.1,435.2 L735.9,438.9 L732.7,442.6 L729.5,446.5 L726.4,450.4 L723.2,454.3 L720.1,458.3 L716.9,462.4 L713.7,466.5 L710.6,470.7 L707.4,474.8 L704.3,479.0 L701.1,483.2 L698.0,487.4 L694.9,491.6 L691.7,495.8 L688.6,500.0 L685.5,504.2 L682.3,508.3 L679.2,512.4 L676.1,516.5 L672.9,520.5 L669.8,524.5 L666.7,528.4 L663.6,532.2 L660.5,536.0 L657.4,539.7 L654.2,543.4 L651.1,547.0 L648.0,550.5 L644.9,554.1 L641.8,557.6 L638.6,561.0 L635.5,564.4 L632.4,567.8 L629.2,571.2 L626.1,574.6 L623.0,578.0 L619.8,581.3 L616.7,584.7 L613.5,588.1 L610.4,591.5 L607.2,594.8 L604.1,598.3 L600.9,601.7 L597.8,605.2 L594.6,608.6 L591.5,612.2 L588.3,615.7 L585.1,619.4 L582.0,623.0 L578.8,626.8 L575.6,630.5 L572.5,634.4 L569.3,638.3 L566.1,642.3 L562.9,646.3 L559.8,650.5 L556.6,654.7 L553.4,659.0 L550.3,663.4 L547.1,667.9 L543.9,672.5 L540.7,677.1 L537.6,681.9 L534.4,686.8 L531.2,691.8 L528.1,696.9 L524.9,702.1 L521.7,707.4 L518.6,712.9 L515.4,718.4 L512.2,724.1 L509.1,729.9 L505.9,735.9 L502.7,741.9 L499.6,748.2 L496.4,754.5 L493.2,761.0 L490.1,767.7 L486.9,774.5 L483.7,781.4 L480.6,788.5 L477.4,795.8 L474.3,803.2 L471.1,810.8 L467.9,818.5 L464.8,826.4 L461.6,834.4 L458.5,842.4 L455.3,850.6 L452.2,858.9 L449.0,867.3 L445.9,875.7 L442.7,884.3 L439.6,892.8 L436.4,901.4 L433.3,910.1 L430.2,918.8 L427.0,927.5 L423.9,936.2 L420.7,944.9 L417.6,953.6 L414.4,962.3 L411.3,970.9 L408.2,979.5 L405.0,988.1 L401.9,996.6 L398.8,1005.0 L395.6,1013.4 L392.5,1021.7 L389.4,1029.8 L386.2,1037.9 L383.1,1045.9 L380.0,1053.7 L376.8,1061.4 L373.7,1069.0 L370.6,1076.5 L367.5,1083.9 L364.3,1091.1 L361.2,1098.3 L358.1,1105.4 L354.9,1112.4 L351.8,1119.3 L348.7,1126.1 L345.5,1132.9 L342.4,1139.5 L339.3,1146.1 L336.1,1152.7 L333.0,1159.2 L329.9,1165.6 L326.7,1171.9 L323.6,1178.2 L320.5,1184.5 L317.3,1190.7 L314.2,1196.9 L311.1,1203.1 L307.9,1209.2 L304.8,1215.3 L301.7,1221.4 L298.5,1227.5 L295.4,1233.6 L292.2,1239.6 L289.1,1245.7Z" fill="#ff0000"/>
<circle cx="291.7" cy="1247.0" r="21.5" fill="#ff0000"/>
<circle cx="385.9" cy="1047.0" r="21.5" fill="#ff0000"/>
<circle cx="480.2" cy="797.0" r="21.5" fill="#ff0000"/>
<circle cx="574.5" cy="636.0" r="21.5" fill="#ff0000"/>
<circle cx="668.7" cy="530.0" r="21.5" fill="#ff0000"/>
<circle cx="763.0" cy="414.0" r="21.5" fill="#ff0000"/>
<circle cx="857.2" cy="349.0" r="21.5" fill="#ff0000"/>
<circle cx="951.5" cy="250.0" r="21.5" fill="#ff0000"/>
<circle cx="1045.7" cy="230.0" r="21.5" fill="#ff0000"/>
<circle cx="1140.0" cy="195.0" r="21.5" fill="#ff0000"/>
<circle cx="1234.2" cy="229.0" r="21.5" fill="#ff0000"/>
<circle cx="1328.5" cy="200.0" r="21.5" fill="#ff0000"/>
<circle cx="1422.7" cy="193.0" r="21.5" fill="#ff0000"/>
<circle cx="1517.0" cy="179.0" r="21.5" fill="#ff0000"/>
<circle cx="1611.2" cy="189.0" r="21.5" fill="#ff0000"/>
<circle cx="1705.5" cy="194.0" r="21.5" fill="#ff0000"/>
<circle cx="1799.7" cy="185.0" r="21.5" fill="#ff0000"/>
<circle cx="1894.0" cy="201.0" r="21.5" fill="#ff0000"/>
<circle cx="1988.2" cy="206.0" r="21.5" fill="#ff0000"/>
<path d="M294.2,1271.4 L297.4,1265.7 L300.5,1259.9 L303.7,1254.2 L306.8,1248.5 L309.9,1242.8 L313.1,1237.1 L316.2,1231.4 L319.4,1225.7 L322.5,1220.0 L325.6,1214.3 L328.8,1208.6 L331.9,1202.9 L335.1,1197.2 L338.2,1191.5 L341.3,1185.9 L344.5,1180.2 L347.6,1174.6 L350.8,1169.0 L353.9,1163.3 L357.0,1157.7 L360.2,1152.1 L363.3,1146.6 L366.5,1141.0 L369.6,1135.4 L372.7,1129.9 L375.9,1124.4 L379.0,1118.9 L382.2,1113.4 L385.3,1107.9 L388.4,1102.4 L391.6,1097.0 L394.7,1091.6 L397.8,1086.1 L401.0,1080.7 L404.1,1075.3 L407.3,1070.0 L410.4,1064.6 L413.5,1059.2 L416.7,1053.8 L419.8,1048.4 L423.0,1043.0 L426.1,1037.6 L429.3,1032.2 L432.4,1026.8 L435.6,1021.3 L438.7,1015.9 L441.8,1010.4 L445.0,1004.9 L448.1,999.4 L451.3,993.8 L454.4,988.3 L457.6,982.7 L460.7,977.0 L463.9,971.3 L467.0,965.6 L470.2,959.9 L473.3,954.0 L476.5,948.2 L479.6,942.3 L482.8,936.4 L485.9,930.4 L489.1,924.3 L492.2,918.2 L495.4,912.1 L498.5,906.0 L501.7,899.9 L504.8,893.7 L508.0,887.5 L511.1,881.4 L514.2,875.2 L517.4,869.1 L520.5,863.0 L523.6,856.9 L526.8,850.8 L529.9,844.8 L533.0,838.9 L536.2,833.0 L539.3,827.1 L542.4,821.4 L545.6,815.7 L548.7,810.1 L551.8,804.6 L554.9,799.2 L558.0,793.8 L561.1,788.6 L564.3,783.6 L567.4,778.6 L570.5,773.8 L573.6,769.1 L576.7,764.6 L579.8,760.2 L582.8,755.9 L585.9,751.8 L589.0,747.8 L592.1,743.9 L595.2,740.2 L598.3,736.6 L601.4,733.1 L604.5,729.7 L607.6,726.4 L610.7,723.2 L613.8,720.1 L616.9,717.1 L620.1,714.1 L623.2,711.3 L626.4,708.5 L629.5,705.8 L632.6,703.1 L635.8,700.5 L638.9,697.9 L642.0,695.3 L645.2,692.8 L648.3,690.3 L651.5,687.8 L654.6,685.4 L657.7,682.9 L660.9,680.4 L664.0,678.0 L667.2,675.5 L670.3,673.0 L673.4,670.5 L676.6,668.0 L679.7,665.5 L682.9,662.9 L686.0,660.3 L689.2,657.7 L692.3,655.0 L695.5,652.4 L698.6,649.7 L701.8,646.9 L704.9,644.1 L708.0,641.3 L711.2,638.5 L714.3,635.6 L717.5,632.6 L720.6,629.7 L723.8,626.6 L726.9,623.6 L730.0,620.4 L733.2,617.3 L736.4,614.1 L739.5,610.8 L742.7,607.5 L745.9,604.1 L749.0,600.7 L752.2,597.2 L755.4,593.7 L758.6,590.1 L761.7,586.4 L764.9,582.6 L768.1,578.8 L771.2,574.9 L774.4,571.0 L777.6,567.0 L780.7,562.9 L783.9,558.8 L787.0,554.7 L790.2,550.6 L793.3,546.4 L796.5,542.2 L799.6,537.9 L802.8,533.7 L805.9,529.5 L809.1,525.2 L812.2,521.0 L815.3,516.8 L818.5,512.6 L821.6,508.4 L824.7,504.2 L827.9,500.1 L831.0,496.0 L834.1,491.9 L837.2,487.9 L840.4,484.0 L843.5,480.1 L846.6,476.2 L849.7,472.5 L852.8,468.8 L855.9,465.2 L859.0,461.6 L862.1,458.2 L865.2,454.8 L868.3,451.6 L871.4,448.4 L874.6,445.3 L877.7,442.3 L880.8,439.4 L884.0,436.6 L887.1,433.9 L890.2,431.2 L893.4,428.6 L896.5,426.1 L899.6,423.6 L902.8,421.3 L905.9,419.0 L909.0,416.7 L912.2,414.6 L915.3,412.4 L918.4,410.4 L921.5,408.4 L924.6,406.5 L927.8,404.6 L930.9,402.8 L934.0,401.1 L937.1,399.4 L940.2,397.8 L943.4,396.2 L946.5,394.6 L949.6,393.2 L952.7,391.7 L955.8,390.3 L958.9,389.0 L962.1,387.7 L965.2,386.4 L968.3,385.1 L971.4,383.9 L974.5,382.7 L977.7,381.5 L980.8,380.4 L983.9,379.2 L987.1,378.0 L990.2,376.9 L993.4,375.8 L996.5,374.6 L999.6,373.4 L1002.8,372.3 L1005.9,371.1 L1009.1,369.9 L1012.3,368.7 L1015.4,367.4 L1018.6,366.1 L1021.7,364.8 L1024.9,363.4 L1028.1,362.0 L1031.2,360.6 L1034.4,359.1 L1037.6,357.5 L1040.8,355.9 L1043.9,354.3 L1047.1,352.5 L1050.3,350.7 L1053.4,348.9 L1056.6,347.0 L1059.7,345.0 L1062.9,343.0 L1066.1,341.0 L1069.2,338.9 L1072.4,336.9 L1075.5,334.8 L1078.6,332.6 L1081.8,330.5 L1084.9,328.4 L1088.1,326.3 L1091.2,324.2 L1094.4,322.1 L1097.5,320.0 L1100.6,317.9 L1103.8,315.9 L1106.9,313.9 L1110.0,311.9 L1113.1,310.0 L1116.3,308.2 L1119.4,306.4 L1122.5,304.6 L1125.6,303.0 L1128.7,301.4 L1131.8,299.9 L1134.9,298.4 L1138.0,297.1 L1141.1,295.8 L1144.2,294.7 L1147.2,293.6 L1150.3,292.6 L1153.4,291.7 L1156.5,290.8 L1159.6,290.1 L1162.7,289.3 L1165.8,288.7 L1168.9,288.0 L1172.0,287.4 L1175.1,286.9 L1178.2,286.4 L1181.3,285.9 L1184.4,285.4 L1187.5,285.0 L1190.7,284.5 L1193.8,284.1 L1197.0,283.6 L1200.1,283.2 L1203.3,282.7 L1206.4,282.2 L1209.6,281.7 L1212.8,281.2 L1215.9,280.6 L1219.1,280.0 L1222.3,279.3 L1225.5,278.6 L1228.7,277.8 L1231.9,277.0 L1235.1,276.0 L1238.3,275.0 L1241.5,274.0 L1244.7,272.8 L1247.9,271.6 L1251.0,270.4 L1254.2,269.1 L1257.4,267.7 L1260.6,266.3 L1263.7,264.9 L1266.9,263.4 L1270.0,261.9 L1273.2,260.4 L1276.3,258.8 L1279.5,257.3 L1282.7,255.7 L1285.8,254.1 L1288.9,252.5 L1292.1,250.9 L1295.2,249.3 L1298.4,247.7 L1301.5,246.1 L1304.6,244.5 L1307.8,242.9 L1310.9,241.4 L1314.0,239.9 L1317.2,238.4 L1320.3,236.9 L1323.4,235.5 L1326.5,234.1 L1329.6,232.8 L1332.8,231.5 L1335.9,230.3 L1339.0,229.1 L1342.1,227.9 L1345.2,226.8 L1348.3,225.7 L1351.4,224.7 L1354.5,223.7 L1357.7,222.7 L1360.8,221.8 L1363.9,220.8 L1367.0,220.0 L1370.1,219.1 L1373.2,218.3 L1376.4,217.5 L1379.5,216.8 L1382.6,216.0 L1385.7,215.3 L1388.8,214.6 L1392.0,214.0 L1395.1,213.3 L1398.2,212.7 L1401.3,212.1 L1404.5,211.5 L1407.6,210.9 L1410.7,210.4 L1413.8,209.8 L1417.0,209.3 L1420.1,208.7 L1423.2,208.2 L1426.4,207.7 L1429.5,207.2 L1432.6,206.7 L1435.8,206.2 L1438.9,205.8 L1442.0,205.3 L1445.1,204.9 L1448.3,204.5 L1451.4,204.1 L1454.5,203.7 L1457.6,203.4 L1460.7,203.1 L1463.8,202.8 L1466.9,202.5 L1470.1,202.3 L1473.2,202.1 L1476.3,201.9 L1479.4,201.7 L1482.5,201.6 L1485.6,201.6 L1488.7,201.6 L1491.8,201.6 L1494.9,201.6 L1498.0,201.7 L1501.1,201.8 L1504.2,202.0 L1507.3,202.3 L1510.3,202.5 L1513.4,202.9 L1516.5,203.2 L1519.6,203.7 L1522.7,204.2 L1525.8,204.7 L1528.9,205.2 L1532.0,205.8 L1535.1,206.5 L1538.3,207.1 L1541.4,207.8 L1544.5,208.5 L1547.7,209.2 L1550.8,209.9 L1553.9,210.6 L1557.1,211.3 L1560.3,212.0 L1563.4,212.7 L1566.6,213.3 L1569.7,214.0 L1572.9,214.6 L1576.1,215.1 L1579.3,215.7 L1582.5,216.1 L1585.7,216.5 L1588.9,216.9 L1592.1,217.2 L1595.3,217.4 L1598.5,217.6 L1601.8,217.6 L1605.0,217.6 L1608.2,217.5 L1611.5,217.3 L1614.7,217.0 L1617.9,216.5 L1621.2,216.0 L1624.4,215.4 L1627.6,214.7 L1630.8,214.0 L1634.0,213.2 L1637.2,212.3 L1640.4,211.4 L1643.6,210.4 L1646.7,209.3 L1649.9,208.2 L1653.1,207.1 L1656.2,206.0 L1659.4,204.8 L1662.6,203.7 L1665.7,202.5 L1668.9,201.3 L1672.0,200.0 L1675.1,198.8 L1678.3,197.6 L1681.4,196.5 L1684.5,195.3 L1687.7,194.1 L1690.8,193.0 L1693.9,192.0 L1697.0,190.9 L1700.1,189.9 L1703.2,189.0 L1706.3,188.0 L1709.4,187.2 L1712.5,186.4 L1715.6,185.7 L1718.7,185.0 L1721.8,184.4 L1724.9,183.8 L1728.0,183.3 L1731.1,182.8 L1734.1,182.4 L1737.2,182.0 L1740.3,181.7 L1743.4,181.4 L1746.5,181.2 L1749.6,181.0 L1752.7,180.9 L1755.8,180.9 L1758.8,180.9 L1761.9,180.9 L1765.0,181.0 L1768.1,181.1 L1771.2,181.3 L1774.3,181.5 L1777.4,181.8 L1780.5,182.2 L1783.6,182.5 L1786.7,183.0 L1789.7,183.4 L1792.8,184.0 L1795.9,184.5 L1799.0,185.2 L1802.1,185.8 L1805.2,186.5 L1808.3,187.3 L1811.5,188.1 L1814.6,188.9 L1817.7,189.7 L1820.8,190.6 L1824.0,191.5 L1827.1,192.4 L1830.2,193.3 L1833.4,194.3 L1836.5,195.2 L1839.7,196.1 L1842.8,197.0 L1846.0,198.0 L1849.1,198.9 L1852.3,199.7 L1855.4,200.6 L1858.6,201.4 L1861.8,202.2 L1865.0,203.0 L1868.1,203.7 L1871.3,204.3 L1874.5,205.0 L1877.7,205.5 L1880.9,206.0 L1884.1,206.4 L1887.3,206.8 L1890.6,207.1 L1893.8,207.3 L1897.1,207.4 L1900.5,207.4 L1903.8,207.4 L1907.1,207.3 L1910.4,207.0 L1913.8,206.8 L1917.1,206.4 L1920.4,206.0 L1923.7,205.5 L1927.0,204.9 L1930.3,204.3 L1933.6,203.6 L1936.9,202.9 L1940.2,202.1 L1943.5,201.3 L1946.8,200.5 L1950.0,199.6 L1953.3,198.6 L1956.6,197.7 L1959.9,196.7 L1963.1,195.7 L1966.4,194.6 L1969.7,193.6 L1972.9,192.5 L1976.2,191.4 L1979.5,190.3 L1982.7,189.2 L1986.0,188.1 L1989.2,187.0 L1987.2,181.0 L1983.9,182.2 L1980.7,183.3 L1977.4,184.4 L1974.2,185.5 L1971.0,186.5 L1967.7,187.6 L1964.5,188.6 L1961.3,189.6 L1958.0,190.6 L1954.8,191.6 L1951.6,192.5 L1948.4,193.4 L1945.1,194.3 L1941.9,195.1 L1938.7,195.9 L1935.5,196.6 L1932.3,197.3 L1929.1,197.9 L1925.9,198.5 L1922.7,199.0 L1919.5,199.5 L1916.3,199.9 L1913.1,200.2 L1910.0,200.5 L1906.8,200.7 L1903.6,200.8 L1900.4,200.8 L1897.3,200.8 L1894.1,200.7 L1891.1,200.5 L1888.0,200.3 L1884.9,199.9 L1881.8,199.5 L1878.8,199.1 L1875.7,198.6 L1872.6,198.0 L1869.5,197.4 L1866.4,196.7 L1863.3,196.0 L1860.2,195.2 L1857.1,194.4 L1853.9,193.6 L1850.8,192.7 L1847.7,191.9 L1844.6,191.0 L1841.4,190.0 L1838.3,189.1 L1835.2,188.2 L1832.0,187.3 L1828.9,186.3 L1825.7,185.4 L1822.6,184.5 L1819.4,183.6 L1816.2,182.7 L1813.1,181.9 L1809.9,181.1 L1806.7,180.3 L1803.5,179.5 L1800.4,178.8 L1797.2,178.2 L1794.0,177.6 L1790.8,177.0 L1787.6,176.5 L1784.4,176.1 L1781.2,175.6 L1778.0,175.3 L1774.8,175.0 L1771.7,174.7 L1768.5,174.5 L1765.3,174.4 L1762.1,174.3 L1758.9,174.3 L1755.7,174.3 L1752.5,174.3 L1749.3,174.5 L1746.1,174.6 L1742.9,174.9 L1739.7,175.1 L1736.5,175.5 L1733.3,175.9 L1730.1,176.3 L1726.9,176.8 L1723.7,177.4 L1720.5,178.0 L1717.3,178.7 L1714.1,179.4 L1711.0,180.2 L1707.8,181.0 L1704.6,182.0 L1701.4,182.9 L1698.2,183.9 L1695.0,185.0 L1691.9,186.1 L1688.7,187.2 L1685.5,188.3 L1682.4,189.5 L1679.2,190.7 L1676.1,191.9 L1672.9,193.1 L1669.8,194.3 L1666.6,195.5 L1663.5,196.7 L1660.4,197.9 L1657.3,199.0 L1654.1,200.2 L1651.0,201.3 L1647.9,202.3 L1644.8,203.4 L1641.7,204.4 L1638.6,205.3 L1635.5,206.2 L1632.4,207.0 L1629.3,207.8 L1626.2,208.4 L1623.2,209.1 L1620.1,209.6 L1617.0,210.1 L1614.0,210.4 L1610.9,210.7 L1607.9,210.9 L1604.8,211.0 L1601.8,211.0 L1598.7,211.0 L1595.7,210.8 L1592.6,210.6 L1589.5,210.4 L1586.5,210.0 L1583.4,209.6 L1580.3,209.2 L1577.2,208.7 L1574.1,208.2 L1571.0,207.6 L1567.9,207.0 L1564.7,206.4 L1561.6,205.7 L1558.5,205.0 L1555.4,204.3 L1552.2,203.6 L1549.1,202.9 L1545.9,202.2 L1542.8,201.5 L1539.6,200.8 L1536.5,200.1 L1533.3,199.5 L1530.1,198.9 L1526.9,198.3 L1523.8,197.7 L1520.6,197.2 L1517.4,196.8 L1514.2,196.4 L1511.0,196.0 L1507.8,195.7 L1504.6,195.5 L1501.4,195.3 L1498.2,195.1 L1495.0,195.0 L1491.9,195.0 L1488.7,195.0 L1485.5,195.0 L1482.3,195.1 L1479.1,195.2 L1475.9,195.3 L1472.8,195.5 L1469.6,195.7 L1466.4,195.9 L1463.2,196.2 L1460.1,196.5 L1456.9,196.9 L1453.7,197.2 L1450.6,197.6 L1447.4,198.0 L1444.3,198.4 L1441.1,198.8 L1437.9,199.3 L1434.8,199.8 L1431.6,200.3 L1428.5,200.8 L1425.3,201.3 L1422.2,201.8 L1419.0,202.3 L1415.9,202.9 L1412.7,203.4 L1409.6,204.0 L1406.4,204.5 L1403.2,205.1 L1400.1,205.7 L1396.9,206.4 L1393.8,207.0 L1390.6,207.7 L1387.5,208.3 L1384.3,209.1 L1381.1,209.8 L1378.0,210.5 L1374.8,211.3 L1371.6,212.1 L1368.5,213.0 L1365.3,213.8 L1362.1,214.8 L1359.0,215.7 L1355.8,216.7 L1352.6,217.7 L1349.5,218.7 L1346.3,219.8 L1343.1,220.9 L1339.9,222.1 L1336.8,223.3 L1333.6,224.6 L1330.4,225.9 L1327.3,227.2 L1324.1,228.6 L1320.9,230.0 L1317.8,231.5 L1314.6,233.0 L1311.4,234.5 L1308.3,236.1 L1305.1,237.6 L1302.0,239.2 L1298.8,240.8 L1295.7,242.4 L1292.6,244.0 L1289.4,245.6 L1286.3,247.2 L1283.1,248.8 L1280.0,250.4 L1276.9,252.0 L1273.7,253.5 L1270.6,255.1 L1267.5,256.5 L1264.4,258.0 L1261.2,259.4 L1258.1,260.8 L1255.0,262.2 L1251.9,263.4 L1248.8,264.7 L1245.7,265.9 L1242.6,267.0 L1239.5,268.0 L1236.4,269.0 L1233.3,270.0 L1230.2,270.8 L1227.1,271.6 L1224.0,272.3 L1221.0,273.0 L1217.9,273.6 L1214.8,274.2 L1211.7,274.8 L1208.5,275.3 L1205.4,275.8 L1202.3,276.3 L1199.2,276.7 L1196.0,277.2 L1192.9,277.6 L1189.8,278.0 L1186.6,278.5 L1183.5,279.0 L1180.3,279.4 L1177.1,280.0 L1174.0,280.5 L1170.8,281.1 L1167.6,281.7 L1164.4,282.3 L1161.2,283.1 L1158.0,283.9 L1154.8,284.7 L1151.6,285.6 L1148.4,286.6 L1145.2,287.7 L1142.0,288.9 L1138.8,290.2 L1135.6,291.5 L1132.4,293.0 L1129.2,294.5 L1126.0,296.2 L1122.9,297.8 L1119.7,299.6 L1116.5,301.4 L1113.4,303.3 L1110.2,305.2 L1107.1,307.2 L1103.9,309.2 L1100.7,311.2 L1097.6,313.3 L1094.4,315.4 L1091.3,317.5 L1088.2,319.6 L1085.0,321.7 L1081.9,323.9 L1078.7,326.0 L1075.6,328.1 L1072.5,330.2 L1069.3,332.3 L1066.2,334.3 L1063.0,336.3 L1059.9,338.3 L1056.8,340.3 L1053.7,342.1 L1050.5,344.0 L1047.4,345.8 L1044.3,347.5 L1041.2,349.1 L1038.1,350.7 L1035.0,352.2 L1031.9,353.7 L1028.7,355.1 L1025.6,356.5 L1022.5,357.9 L1019.4,359.2 L1016.3,360.5 L1013.1,361.7 L1010.0,362.9 L1006.9,364.1 L1003.8,365.3 L1000.6,366.5 L997.5,367.6 L994.4,368.8 L991.2,369.9 L988.1,371.1 L984.9,372.2 L981.8,373.4 L978.6,374.6 L975.5,375.7 L972.3,377.0 L969.2,378.2 L966.0,379.4 L962.9,380.7 L959.7,382.1 L956.5,383.4 L953.4,384.8 L950.2,386.3 L947.0,387.8 L943.9,389.3 L940.7,390.9 L937.5,392.6 L934.4,394.3 L931.2,396.1 L928.0,397.9 L924.9,399.8 L921.7,401.7 L918.5,403.7 L915.4,405.8 L912.2,407.9 L909.1,410.1 L905.9,412.4 L902.7,414.7 L899.6,417.1 L896.4,419.5 L893.3,422.1 L890.1,424.7 L887.0,427.4 L883.8,430.1 L880.7,433.0 L877.5,435.9 L874.4,438.9 L871.3,441.9 L868.1,445.1 L864.9,448.3 L861.7,451.5 L858.6,454.9 L855.4,458.4 L852.2,461.9 L849.0,465.5 L845.8,469.2 L842.7,473.0 L839.5,476.9 L836.3,480.8 L833.2,484.7 L830.0,488.7 L826.9,492.8 L823.7,496.9 L820.5,501.0 L817.4,505.2 L814.2,509.4 L811.1,513.6 L807.9,517.8 L804.8,522.1 L801.7,526.3 L798.5,530.6 L795.4,534.8 L792.2,539.0 L789.1,543.2 L786.0,547.4 L782.8,551.5 L779.7,555.7 L776.6,559.7 L773.5,563.8 L770.3,567.8 L767.2,571.7 L764.1,575.6 L761.0,579.4 L757.9,583.1 L754.8,586.8 L751.7,590.4 L748.5,593.9 L745.4,597.4 L742.3,600.9 L739.2,604.2 L736.1,607.5 L733.0,610.8 L729.9,614.0 L726.7,617.1 L723.6,620.2 L720.5,623.2 L717.3,626.2 L714.2,629.1 L711.0,632.0 L707.9,634.8 L704.8,637.7 L701.6,640.4 L698.5,643.2 L695.3,645.9 L692.2,648.5 L689.1,651.2 L685.9,653.8 L682.8,656.4 L679.7,658.9 L676.5,661.5 L673.4,664.0 L670.2,666.5 L667.1,669.0 L664.0,671.4 L660.8,673.9 L657.7,676.4 L654.5,678.8 L651.4,681.3 L648.2,683.8 L645.1,686.3 L642.0,688.8 L638.8,691.4 L635.7,694.0 L632.5,696.6 L629.4,699.3 L626.2,702.0 L623.1,704.8 L619.9,707.7 L616.8,710.6 L613.6,713.6 L610.5,716.7 L607.3,719.9 L604.2,723.1 L601.0,726.4 L597.8,729.8 L594.6,733.3 L591.4,737.0 L588.2,740.7 L585.0,744.6 L581.8,748.6 L578.6,752.7 L575.4,757.0 L572.2,761.4 L569.0,766.0 L565.9,770.8 L562.7,775.6 L559.5,780.6 L556.3,785.7 L553.2,790.9 L550.0,796.3 L546.8,801.7 L543.7,807.3 L540.5,812.9 L537.4,818.6 L534.2,824.4 L531.0,830.2 L527.9,836.1 L524.7,842.1 L521.6,848.1 L518.4,854.2 L515.3,860.3 L512.1,866.4 L509.0,872.5 L505.9,878.7 L502.7,884.9 L499.6,891.0 L496.4,897.2 L493.3,903.3 L490.2,909.5 L487.0,915.6 L483.9,921.6 L480.7,927.7 L477.6,933.6 L474.5,939.6 L471.4,945.5 L468.2,951.3 L465.1,957.1 L462.0,962.8 L458.8,968.5 L455.7,974.2 L452.6,979.8 L449.4,985.4 L446.3,991.0 L443.1,996.6 L440.0,1002.1 L436.9,1007.6 L433.7,1013.0 L430.6,1018.5 L427.5,1023.9 L424.3,1029.3 L421.2,1034.8 L418.0,1040.2 L414.9,1045.5 L411.8,1050.9 L408.6,1056.3 L405.5,1061.7 L402.3,1067.1 L399.2,1072.5 L396.1,1077.9 L392.9,1083.3 L389.8,1088.7 L386.6,1094.1 L383.5,1099.6 L380.3,1105.0 L377.2,1110.5 L374.0,1116.0 L370.9,1121.5 L367.7,1127.1 L364.6,1132.6 L361.5,1138.2 L358.3,1143.7 L355.2,1149.3 L352.0,1154.9 L348.9,1160.5 L345.7,1166.2 L342.6,1171.8 L339.4,1177.4 L336.3,1183.1 L333.2,1188.7 L330.0,1194.4 L326.9,1200.1 L323.7,1205.8 L320.6,1211.5 L317.4,1217.2 L314.3,1222.9 L311.2,1228.6 L308.0,1234.3 L304.9,1240.0 L301.7,1245.7 L298.6,1251.4 L295.4,1257.2 L292.3,1262.9 L289.2,1268.6Z" fill="#0000ff"/>
<polygon points="291.7,1242.0 317.7,1284.0 265.7,1284.0" fill="#0000ff"/>
<polygon points="385.9,1073.0 411.9,1115.0 359.9,1115.0" fill="#0000ff"/>
<polygon points="480.2,907.0 506.2,949.0 454.2,949.0" fill="#0000ff"/>
<polygon points="574.5,735.0 600.5,777.0 548.5,777.0" fill="#0000ff"/>
<polygon points="668.7,643.0 694.7,685.0 642.7,685.0" fill="#0000ff"/>
<polygon points="763.0,553.0 789.0,595.0 737.0,595.0" fill="#0000ff"/>
<polygon points="857.2,432.0 883.2,474.0 831.2,474.0" fill="#0000ff"/>
<polygon points="951.5,361.0 977.5,403.0 925.5,403.0" fill="#0000ff"/>
<polygon points="1045.7,322.0 1071.7,364.0 1019.7,364.0" fill="#0000ff"/>
<polygon points="1140.0,265.0 1166.0,307.0 1114.0,307.0" fill="#0000ff"/>
<polygon points="1234.2,245.0 1260.2,287.0 1208.2,287.0" fill="#0000ff"/>
<polygon points="1328.5,202.0 1354.5,244.0 1302.5,244.0" fill="#0000ff"/>
<polygon points="1422.7,177.0 1448.7,219.0 1396.7,219.0" fill="#0000ff"/>
<polygon points="1517.0,172.0 1543.0,214.0 1491.0,214.0" fill="#0000ff"/>
<polygon points="1611.2,186.0 1637.2,228.0 1585.2,228.0" fill="#0000ff"/>
<polygon points="1705.5,157.0 1731.5,199.0 1679.5,199.0" fill="#0000ff"/>
<polygon points="1799.7,154.0 1825.7,196.0 1773.7,196.0" fill="#0000ff"/>
<polygon points="1894.0,176.0 1920.0,218.0 1868.0,218.0" fill="#0000ff"/>
<polygon points="1988.2,156.0 2014.2,198.0 1962.2,198.0" fill="#0000ff"/>
<path d="M293.5,1275.6 L296.6,1272.3 L299.8,1268.9 L302.9,1265.5 L306.0,1262.1 L309.2,1258.7 L312.3,1255.3 L315.5,1251.9 L318.6,1248.4 L321.8,1244.9 L324.9,1241.5 L328.1,1237.9 L331.3,1234.4 L334.4,1230.8 L337.6,1227.2 L340.7,1223.6 L343.9,1220.0 L347.0,1216.2 L350.2,1212.5 L353.4,1208.7 L356.5,1204.9 L359.7,1201.0 L362.8,1197.1 L366.0,1193.1 L369.2,1189.1 L372.3,1185.0 L375.5,1180.8 L378.7,1176.6 L381.8,1172.3 L385.0,1168.0 L388.1,1163.6 L391.3,1159.1 L394.5,1154.5 L397.6,1149.9 L400.8,1145.2 L404.0,1140.5 L407.1,1135.8 L410.3,1131.0 L413.4,1126.1 L416.6,1121.2 L419.7,1116.3 L422.9,1111.4 L426.0,1106.4 L429.1,1101.5 L432.3,1096.5 L435.4,1091.5 L438.6,1086.6 L441.7,1081.6 L444.9,1076.6 L448.0,1071.7 L451.1,1066.8 L454.3,1061.9 L457.4,1057.0 L460.5,1052.1 L463.7,1047.3 L466.8,1042.6 L469.9,1037.9 L473.0,1033.2 L476.2,1028.6 L479.3,1024.0 L482.4,1019.6 L485.5,1015.1 L488.6,1010.8 L491.8,1006.5 L494.9,1002.3 L498.0,998.2 L501.1,994.1 L504.2,990.1 L507.3,986.2 L510.5,982.3 L513.6,978.5 L516.7,974.8 L519.8,971.1 L522.9,967.5 L526.0,964.0 L529.1,960.5 L532.2,957.1 L535.4,953.7 L538.5,950.4 L541.6,947.2 L544.7,944.0 L547.8,940.9 L551.0,937.9 L554.1,935.0 L557.2,932.1 L560.4,929.3 L563.5,926.5 L566.7,923.8 L569.8,921.1 L572.9,918.5 L576.1,916.0 L579.2,913.5 L582.3,911.1 L585.5,908.7 L588.6,906.4 L591.7,904.1 L594.9,901.9 L598.0,899.8 L601.1,897.6 L604.2,895.6 L607.4,893.5 L610.5,891.5 L613.6,889.6 L616.8,887.7 L619.9,885.8 L623.0,884.0 L626.1,882.2 L629.3,880.4 L632.4,878.6 L635.5,876.9 L638.7,875.3 L641.8,873.6 L644.9,872.0 L648.0,870.4 L651.2,868.8 L654.3,867.2 L657.4,865.7 L660.6,864.2 L663.7,862.7 L666.8,861.2 L670.0,859.7 L673.1,858.2 L676.2,856.8 L679.4,855.4 L682.5,853.9 L685.6,852.5 L688.8,851.1 L691.9,849.7 L695.1,848.3 L698.2,846.9 L701.3,845.5 L704.5,844.2 L707.6,842.8 L710.8,841.4 L713.9,840.1 L717.0,838.7 L720.2,837.3 L723.3,835.9 L726.5,834.6 L729.6,833.2 L732.7,831.8 L735.9,830.5 L739.0,829.1 L742.2,827.7 L745.3,826.3 L748.5,824.9 L751.6,823.5 L754.8,822.0 L757.9,820.6 L761.1,819.2 L764.2,817.7 L767.4,816.2 L770.5,814.8 L773.7,813.2 L776.8,811.7 L780.0,810.1 L783.2,808.4 L786.3,806.8 L789.5,805.0 L792.7,803.2 L795.8,801.3 L799.0,799.3 L802.2,797.3 L805.3,795.2 L808.5,792.9 L811.6,790.6 L814.8,788.2 L818.0,785.7 L821.1,783.0 L824.3,780.2 L827.4,777.3 L830.6,774.3 L833.7,771.1 L836.9,767.9 L840.2,764.5 L843.4,760.9 L846.6,757.2 L849.8,753.3 L853.0,749.2 L856.2,745.0 L859.4,740.5 L862.6,735.9 L865.8,731.1 L869.0,726.1 L872.2,721.0 L875.4,715.7 L878.5,710.3 L881.7,704.7 L884.9,699.1 L888.0,693.3 L891.2,687.4 L894.3,681.5 L897.5,675.5 L900.6,669.4 L903.8,663.3 L906.9,657.1 L910.1,650.9 L913.2,644.7 L916.4,638.5 L919.5,632.3 L922.7,626.1 L925.8,619.9 L928.9,613.8 L932.1,607.7 L935.2,601.7 L938.3,595.8 L941.4,589.9 L944.6,584.1 L947.7,578.4 L950.8,572.9 L953.9,567.4 L957.0,562.1 L960.1,557.0 L963.2,551.9 L966.4,547.0 L969.5,542.2 L972.6,537.5 L975.7,532.9 L978.8,528.4 L981.9,524.0 L985.0,519.8 L988.1,515.6 L991.2,511.5 L994.3,507.6 L997.4,503.7 L1000.5,499.9 L1003.6,496.1 L1006.7,492.5 L1009.8,488.9 L1013.0,485.4 L1016.1,482.0 L1019.2,478.6 L1022.3,475.3 L1025.4,472.1 L1028.5,468.9 L1031.6,465.7 L1034.8,462.7 L1037.9,459.6 L1041.1,456.6 L1044.2,453.7 L1047.3,450.8 L1050.5,447.9 L1053.6,445.0 L1056.8,442.2 L1059.9,439.4 L1063.0,436.7 L1066.2,434.0 L1069.3,431.3 L1072.5,428.6 L1075.6,426.0 L1078.7,423.5 L1081.9,421.0 L1085.0,418.5 L1088.1,416.1 L1091.3,413.7 L1094.4,411.4 L1097.5,409.1 L1100.7,406.8 L1103.8,404.7 L1106.9,402.5 L1110.1,400.4 L1113.2,398.4 L1116.3,396.4 L1119.4,394.5 L1122.6,392.6 L1125.7,390.8 L1128.8,389.1 L1131.9,387.4 L1135.0,385.8 L1138.1,384.2 L1141.2,382.7 L1144.4,381.2 L1147.5,379.8 L1150.6,378.5 L1153.7,377.2 L1156.8,376.0 L1159.9,374.8 L1163.0,373.6 L1166.1,372.5 L1169.2,371.4 L1172.4,370.3 L1175.5,369.3 L1178.6,368.3 L1181.7,367.3 L1184.9,366.4 L1188.0,365.4 L1191.1,364.5 L1194.3,363.6 L1197.4,362.6 L1200.5,361.7 L1203.7,360.8 L1206.8,359.9 L1210.0,359.0 L1213.1,358.0 L1216.3,357.1 L1219.4,356.1 L1222.6,355.1 L1225.7,354.1 L1228.9,353.1 L1232.1,352.0 L1235.2,350.9 L1238.4,349.8 L1241.6,348.7 L1244.7,347.5 L1247.9,346.2 L1251.0,345.0 L1254.2,343.7 L1257.4,342.3 L1260.5,341.0 L1263.7,339.6 L1266.9,338.2 L1270.0,336.7 L1273.2,335.2 L1276.3,333.7 L1279.5,332.1 L1282.6,330.6 L1285.8,329.0 L1289.0,327.3 L1292.1,325.6 L1295.3,323.9 L1298.4,322.2 L1301.6,320.5 L1304.7,318.7 L1307.9,316.8 L1311.0,315.0 L1314.2,313.1 L1317.3,311.2 L1320.5,309.3 L1323.6,307.3 L1326.8,305.4 L1329.9,303.3 L1333.1,301.3 L1336.2,299.2 L1339.4,297.2 L1342.5,295.1 L1345.7,293.0 L1348.8,290.9 L1352.0,288.8 L1355.1,286.6 L1358.3,284.5 L1361.4,282.4 L1364.5,280.3 L1367.7,278.2 L1370.8,276.2 L1373.9,274.1 L1377.1,272.1 L1380.2,270.1 L1383.3,268.1 L1386.5,266.2 L1389.6,264.3 L1392.7,262.4 L1395.9,260.6 L1399.0,258.9 L1402.1,257.1 L1405.2,255.5 L1408.3,253.9 L1411.4,252.3 L1414.6,250.9 L1417.7,249.4 L1420.8,248.1 L1423.9,246.8 L1426.9,245.6 L1430.0,244.5 L1433.1,243.4 L1436.2,242.4 L1439.3,241.5 L1442.4,240.6 L1445.5,239.7 L1448.6,238.9 L1451.7,238.2 L1454.8,237.5 L1457.9,236.8 L1461.1,236.1 L1464.2,235.5 L1467.3,234.9 L1470.4,234.3 L1473.5,233.7 L1476.7,233.2 L1479.8,232.6 L1483.0,232.1 L1486.1,231.5 L1489.2,231.0 L1492.4,230.4 L1495.5,229.8 L1498.7,229.2 L1501.9,228.6 L1505.0,228.0 L1508.2,227.3 L1511.4,226.6 L1514.5,225.9 L1517.7,225.1 L1520.9,224.3 L1524.1,223.4 L1527.2,222.6 L1530.4,221.6 L1533.6,220.7 L1536.7,219.7 L1539.9,218.7 L1543.0,217.7 L1546.2,216.7 L1549.3,215.7 L1552.5,214.7 L1555.6,213.6 L1558.8,212.6 L1561.9,211.5 L1565.0,210.5 L1568.2,209.5 L1571.3,208.5 L1574.4,207.5 L1577.6,206.6 L1580.7,205.6 L1583.8,204.7 L1586.9,203.8 L1590.0,203.0 L1593.1,202.2 L1596.3,201.4 L1599.4,200.6 L1602.5,200.0 L1605.6,199.3 L1608.6,198.7 L1611.7,198.2 L1614.8,197.7 L1617.9,197.3 L1621.0,197.0 L1624.1,196.6 L1627.2,196.4 L1630.3,196.1 L1633.4,195.9 L1636.5,195.8 L1639.6,195.7 L1642.7,195.6 L1645.8,195.6 L1648.9,195.6 L1652.0,195.6 L1655.1,195.6 L1658.3,195.7 L1661.4,195.7 L1664.5,195.8 L1667.6,195.9 L1670.8,196.0 L1673.9,196.2 L1677.0,196.3 L1680.2,196.4 L1683.3,196.6 L1686.5,196.7 L1689.6,196.8 L1692.8,196.9 L1695.9,197.1 L1699.1,197.2 L1702.2,197.2 L1705.4,197.3 L1708.6,197.3 L1711.7,197.4 L1714.9,197.4 L1718.0,197.4 L1721.2,197.3 L1724.4,197.3 L1727.5,197.2 L1730.7,197.2 L1733.8,197.1 L1737.0,197.0 L1740.1,196.9 L1743.3,196.8 L1746.4,196.7 L1749.6,196.6 L1752.7,196.5 L1755.8,196.3 L1759.0,196.2 L1762.1,196.1 L1765.3,196.0 L1768.4,195.9 L1771.5,195.8 L1774.7,195.7 L1777.8,195.6 L1780.9,195.5 L1784.1,195.5 L1787.2,195.4 L1790.3,195.3 L1793.4,195.3 L1796.6,195.3 L1799.7,195.3 L1802.8,195.3 L1805.9,195.4 L1809.1,195.4 L1812.2,195.5 L1815.3,195.5 L1818.5,195.6 L1821.6,195.7 L1824.7,195.8 L1827.9,195.9 L1831.0,196.0 L1834.1,196.1 L1837.3,196.2 L1840.4,196.3 L1843.6,196.4 L1846.7,196.5 L1849.9,196.6 L1853.0,196.7 L1856.2,196.8 L1859.3,196.8 L1862.5,196.9 L1865.6,196.9 L1868.8,196.9 L1872.0,196.9 L1875.1,196.9 L1878.3,196.9 L1881.5,196.8 L1884.6,196.7 L1887.8,196.6 L1891.0,196.5 L1894.1,196.3 L1897.4,196.1 L1900.7,195.8 L1904.0,195.5 L1907.3,195.2 L1910.5,194.9 L1913.8,194.5 L1917.1,194.1 L1920.4,193.7 L1923.6,193.3 L1926.9,192.8 L1930.2,192.3 L1933.5,191.8 L1936.7,191.3 L1940.0,190.7 L1943.3,190.2 L1946.5,189.6 L1949.8,189.0 L1953.0,188.4 L1956.3,187.8 L1959.6,187.1 L1962.8,186.5 L1966.1,185.9 L1969.3,185.2 L1972.6,184.5 L1975.9,183.9 L1979.1,183.2 L1982.4,182.5 L1985.6,181.8 L1988.9,181.2 L1987.5,174.8 L1984.3,175.5 L1981.0,176.2 L1977.8,176.9 L1974.5,177.5 L1971.3,178.2 L1968.1,178.9 L1964.8,179.5 L1961.6,180.2 L1958.3,180.8 L1955.1,181.4 L1951.9,182.0 L1948.6,182.6 L1945.4,183.2 L1942.1,183.8 L1938.9,184.3 L1935.7,184.9 L1932.4,185.4 L1929.2,185.9 L1926.0,186.3 L1922.8,186.8 L1919.5,187.2 L1916.3,187.6 L1913.1,188.0 L1909.9,188.4 L1906.6,188.7 L1903.4,189.0 L1900.2,189.3 L1897.0,189.5 L1893.8,189.7 L1890.6,189.9 L1887.5,190.0 L1884.4,190.1 L1881.3,190.2 L1878.2,190.3 L1875.1,190.3 L1871.9,190.3 L1868.8,190.3 L1865.7,190.3 L1862.6,190.3 L1859.4,190.2 L1856.3,190.2 L1853.2,190.1 L1850.1,190.0 L1846.9,189.9 L1843.8,189.8 L1840.7,189.7 L1837.5,189.6 L1834.4,189.5 L1831.2,189.4 L1828.1,189.3 L1824.9,189.2 L1821.8,189.1 L1818.6,189.0 L1815.5,188.9 L1812.3,188.9 L1809.2,188.8 L1806.0,188.8 L1802.9,188.7 L1799.7,188.7 L1796.5,188.7 L1793.4,188.7 L1790.2,188.7 L1787.1,188.8 L1783.9,188.9 L1780.8,188.9 L1777.6,189.0 L1774.5,189.1 L1771.3,189.2 L1768.2,189.3 L1765.0,189.4 L1761.9,189.5 L1758.7,189.6 L1755.6,189.8 L1752.5,189.9 L1749.3,190.0 L1746.2,190.1 L1743.0,190.2 L1739.9,190.3 L1736.8,190.4 L1733.6,190.5 L1730.5,190.6 L1727.4,190.6 L1724.2,190.7 L1721.1,190.7 L1718.0,190.8 L1714.9,190.8 L1711.7,190.8 L1708.6,190.7 L1705.5,190.7 L1702.4,190.6 L1699.3,190.6 L1696.1,190.5 L1693.0,190.4 L1689.9,190.2 L1686.7,190.1 L1683.6,190.0 L1680.5,189.8 L1677.3,189.7 L1674.2,189.6 L1671.0,189.5 L1667.9,189.3 L1664.7,189.2 L1661.6,189.1 L1658.4,189.1 L1655.2,189.0 L1652.1,189.0 L1648.9,189.0 L1645.7,189.0 L1642.6,189.0 L1639.4,189.1 L1636.2,189.2 L1633.0,189.4 L1629.8,189.6 L1626.6,189.8 L1623.4,190.1 L1620.3,190.4 L1617.1,190.8 L1613.9,191.3 L1610.7,191.8 L1607.5,192.4 L1604.3,193.0 L1601.1,193.7 L1597.9,194.4 L1594.7,195.2 L1591.6,196.0 L1588.4,196.8 L1585.2,197.7 L1582.0,198.6 L1578.9,199.6 L1575.7,200.5 L1572.6,201.5 L1569.4,202.5 L1566.3,203.5 L1563.1,204.6 L1560.0,205.6 L1556.8,206.6 L1553.7,207.7 L1550.5,208.7 L1547.4,209.7 L1544.3,210.7 L1541.1,211.7 L1538.0,212.7 L1534.9,213.7 L1531.7,214.6 L1528.6,215.6 L1525.5,216.4 L1522.4,217.3 L1519.3,218.1 L1516.2,218.9 L1513.1,219.6 L1510.0,220.3 L1506.9,221.0 L1503.7,221.6 L1500.6,222.3 L1497.5,222.9 L1494.4,223.4 L1491.2,224.0 L1488.1,224.6 L1485.0,225.1 L1481.8,225.7 L1478.7,226.2 L1475.5,226.8 L1472.4,227.3 L1469.2,227.9 L1466.1,228.5 L1462.9,229.1 L1459.7,229.8 L1456.6,230.5 L1453.4,231.2 L1450.2,232.0 L1447.0,232.8 L1443.9,233.6 L1440.7,234.5 L1437.5,235.4 L1434.3,236.5 L1431.1,237.5 L1427.9,238.7 L1424.7,239.9 L1421.5,241.2 L1418.4,242.5 L1415.2,244.0 L1412.0,245.5 L1408.8,247.0 L1405.7,248.7 L1402.5,250.3 L1399.3,252.1 L1396.2,253.9 L1393.0,255.7 L1389.8,257.6 L1386.7,259.5 L1383.5,261.4 L1380.4,263.4 L1377.2,265.4 L1374.1,267.4 L1370.9,269.5 L1367.8,271.6 L1364.6,273.7 L1361.5,275.8 L1358.3,277.9 L1355.2,280.0 L1352.1,282.1 L1348.9,284.2 L1345.8,286.3 L1342.6,288.4 L1339.5,290.5 L1336.4,292.6 L1333.2,294.6 L1330.1,296.7 L1327.0,298.7 L1323.8,300.6 L1320.7,302.6 L1317.6,304.5 L1314.4,306.4 L1311.3,308.3 L1308.2,310.1 L1305.0,311.9 L1301.9,313.7 L1298.8,315.4 L1295.6,317.1 L1292.5,318.8 L1289.4,320.5 L1286.3,322.1 L1283.1,323.7 L1280.0,325.3 L1276.9,326.8 L1273.8,328.3 L1270.6,329.8 L1267.5,331.3 L1264.4,332.7 L1261.3,334.1 L1258.1,335.4 L1255.0,336.7 L1251.9,338.0 L1248.8,339.3 L1245.6,340.5 L1242.5,341.7 L1239.4,342.8 L1236.3,344.0 L1233.2,345.1 L1230.1,346.1 L1226.9,347.1 L1223.8,348.1 L1220.7,349.1 L1217.6,350.1 L1214.4,351.0 L1211.3,352.0 L1208.2,352.9 L1205.0,353.8 L1201.9,354.7 L1198.8,355.6 L1195.6,356.6 L1192.5,357.5 L1189.3,358.4 L1186.2,359.4 L1183.0,360.3 L1179.9,361.3 L1176.7,362.3 L1173.5,363.3 L1170.4,364.4 L1167.2,365.5 L1164.0,366.6 L1160.9,367.8 L1157.7,369.0 L1154.5,370.3 L1151.4,371.6 L1148.2,372.9 L1145.0,374.3 L1141.8,375.8 L1138.7,377.3 L1135.5,378.9 L1132.3,380.6 L1129.1,382.3 L1126.0,384.1 L1122.8,385.9 L1119.6,387.8 L1116.5,389.7 L1113.3,391.7 L1110.2,393.8 L1107.0,395.9 L1103.9,398.0 L1100.7,400.2 L1097.5,402.5 L1094.4,404.8 L1091.2,407.1 L1088.1,409.5 L1084.9,412.0 L1081.8,414.4 L1078.6,417.0 L1075.5,419.5 L1072.4,422.1 L1069.2,424.8 L1066.1,427.5 L1062.9,430.2 L1059.8,432.9 L1056.6,435.7 L1053.5,438.6 L1050.3,441.4 L1047.2,444.3 L1044.1,447.2 L1040.9,450.2 L1037.8,453.2 L1034.6,456.2 L1031.5,459.3 L1028.3,462.4 L1025.2,465.6 L1022.0,468.8 L1018.8,472.0 L1015.7,475.3 L1012.5,478.7 L1009.3,482.1 L1006.2,485.6 L1003.0,489.2 L999.8,492.9 L996.6,496.6 L993.4,500.4 L990.3,504.3 L987.1,508.3 L983.9,512.4 L980.7,516.6 L977.6,520.9 L974.4,525.3 L971.2,529.8 L968.0,534.4 L964.9,539.1 L961.7,544.0 L958.5,548.9 L955.3,554.0 L952.2,559.2 L949.0,564.6 L945.8,570.0 L942.6,575.6 L939.5,581.3 L936.3,587.1 L933.2,593.0 L930.0,599.0 L926.9,605.0 L923.7,611.1 L920.6,617.3 L917.4,623.4 L914.3,629.6 L911.1,635.9 L908.0,642.1 L904.8,648.3 L901.7,654.5 L898.6,660.6 L895.4,666.7 L892.3,672.8 L889.2,678.8 L886.0,684.7 L882.9,690.5 L879.8,696.3 L876.7,701.9 L873.6,707.4 L870.5,712.8 L867.4,718.1 L864.2,723.2 L861.2,728.1 L858.1,732.9 L855.0,737.5 L851.9,741.9 L848.8,746.1 L845.7,750.1 L842.7,754.0 L839.6,757.7 L836.5,761.2 L833.5,764.6 L830.4,767.8 L827.3,770.9 L824.1,773.8 L821.0,776.5 L817.9,779.1 L814.7,781.6 L811.6,784.0 L808.5,786.3 L805.4,788.5 L802.3,790.6 L799.1,792.6 L796.0,794.6 L792.9,796.4 L789.8,798.2 L786.7,800.0 L783.6,801.6 L780.4,803.3 L777.3,804.8 L774.2,806.4 L771.1,807.9 L768.0,809.4 L764.8,810.8 L761.7,812.3 L758.6,813.7 L755.4,815.1 L752.3,816.6 L749.1,818.0 L746.0,819.4 L742.9,820.8 L739.7,822.2 L736.6,823.5 L733.5,824.9 L730.3,826.3 L727.2,827.7 L724.0,829.0 L720.9,830.4 L717.8,831.8 L714.6,833.1 L711.5,834.5 L708.3,835.9 L705.2,837.3 L702.0,838.6 L698.9,840.0 L695.8,841.4 L692.6,842.8 L689.5,844.2 L686.3,845.6 L683.2,847.0 L680.0,848.5 L676.9,849.9 L673.7,851.4 L670.6,852.8 L667.4,854.3 L664.3,855.8 L661.1,857.3 L658.0,858.8 L654.8,860.4 L651.7,861.9 L648.5,863.5 L645.4,865.1 L642.2,866.8 L639.1,868.4 L635.9,870.1 L632.8,871.8 L629.6,873.6 L626.4,875.4 L623.3,877.2 L620.1,879.0 L617.0,880.9 L613.8,882.9 L610.7,884.8 L607.5,886.8 L604.4,888.9 L601.2,891.0 L598.1,893.1 L594.9,895.3 L591.7,897.5 L588.6,899.8 L585.4,902.1 L582.3,904.5 L579.1,907.0 L576.0,909.5 L572.8,912.0 L569.7,914.6 L566.5,917.3 L563.4,920.0 L560.2,922.8 L557.1,925.6 L554.0,928.5 L550.8,931.5 L547.7,934.5 L544.5,937.6 L541.4,940.7 L538.2,943.9 L535.0,947.1 L531.9,950.4 L528.7,953.8 L525.5,957.2 L522.3,960.7 L519.2,964.2 L516.0,967.8 L512.8,971.5 L509.7,975.3 L506.5,979.1 L503.3,983.0 L500.2,986.9 L497.0,990.9 L493.8,995.0 L490.7,999.2 L487.5,1003.4 L484.3,1007.7 L481.2,1012.0 L478.0,1016.4 L474.8,1020.9 L471.7,1025.5 L468.5,1030.1 L465.4,1034.8 L462.2,1039.5 L459.0,1044.3 L455.9,1049.1 L452.7,1054.0 L449.6,1058.9 L446.4,1063.8 L443.3,1068.7 L440.1,1073.6 L437.0,1078.6 L433.9,1083.6 L430.7,1088.6 L427.6,1093.5 L424.4,1098.5 L421.3,1103.5 L418.2,1108.4 L415.0,1113.3 L411.9,1118.2 L408.8,1123.1 L405.6,1127.9 L402.5,1132.7 L399.4,1137.5 L396.2,1142.2 L393.1,1146.8 L390.0,1151.4 L386.9,1156.0 L383.8,1160.4 L380.6,1164.8 L377.5,1169.2 L374.4,1173.4 L371.3,1177.6 L368.2,1181.8 L365.0,1185.9 L361.9,1189.9 L358.8,1193.9 L355.7,1197.8 L352.6,1201.7 L349.4,1205.5 L346.3,1209.3 L343.2,1213.0 L340.1,1216.7 L336.9,1220.4 L333.8,1224.0 L330.7,1227.6 L327.5,1231.1 L324.4,1234.7 L321.3,1238.2 L318.2,1241.7 L315.0,1245.1 L311.9,1248.6 L308.8,1252.0 L305.6,1255.4 L302.5,1258.8 L299.3,1262.2 L296.2,1265.6 L293.1,1269.0 L289.9,1272.4Z" fill="#008000"/>
<polygon points="291.7,1302.0 317.7,1260.0 265.7,1260.0" fill="#008000"/>
<polygon points="385.9,1190.0 411.9,1148.0 359.9,1148.0" fill="#008000"/>
<polygon points="480.2,1046.0 506.2,1004.0 454.2,1004.0" fill="#008000"/>
<polygon points="574.5,942.0 600.5,900.0 548.5,900.0" fill="#008000"/>
<polygon points="668.7,885.0 694.7,843.0 642.7,843.0" fill="#008000"/>
<polygon points="763.0,843.0 789.0,801.0 737.0,801.0" fill="#008000"/>
<polygon points="857.2,767.0 883.2,725.0 831.2,725.0" fill="#008000"/>
<polygon points="951.5,594.0 977.5,552.0 925.5,552.0" fill="#008000"/>
<polygon points="1045.7,477.0 1071.7,435.0 1019.7,435.0" fill="#008000"/>
<polygon points="1140.0,408.0 1166.0,366.0 1114.0,366.0" fill="#008000"/>
<polygon points="1234.2,376.0 1260.2,334.0 1208.2,334.0" fill="#008000"/>
<polygon points="1328.5,329.0 1354.5,287.0 1302.5,287.0" fill="#008000"/>
<polygon points="1422.7,272.0 1448.7,230.0 1396.7,230.0" fill="#008000"/>
<polygon points="1517.0,250.0 1543.0,208.0 1491.0,208.0" fill="#008000"/>
<polygon points="1611.2,223.0 1637.2,181.0 1585.2,181.0" fill="#008000"/>
<polygon points="1705.5,222.0 1731.5,180.0 1679.5,180.0" fill="#008000"/>
<polygon points="1799.7,220.0 1825.7,178.0 1773.7,178.0" fill="#008000"/>
<polygon points="1894.0,221.0 1920.0,179.0 1868.0,179.0" fill="#008000"/>
<polygon points="1988.2,206.0 2014.2,164.0 1962.2,164.0" fill="#008000"/>
<path d="M276.2,1222.0 H307.2 M276.2,1330.0 H307.2 M291.7,1222.0 V1257.0 M291.7,1295.0 V1330.0" stroke="#000000" stroke-width="5.4" fill="none"/>
<path d="M370.4,881.0 H401.4 M370.4,1077.0 H401.4 M385.9,881.0 V960.0 M385.9,998.0 V1077.0" stroke="#000000" stroke-width="5.4" fill="none"/>
<path d="M464.7,669.0 H495.7 M464.7,793.0 H495.7 M480.2,669.0 V712.0 M480.2,750.0 V793.0" stroke="#000000" stroke-width="5.4" fill="none"/>
<path d="M559.0,552.0 H590.0 M559.0,678.0 H590.0 M574.5,552.0 V596.0 M574.5,634.0 V678.0" stroke="#000000" stroke-width="5.4" fill="none"/>
<path d="M653.2,444.0 H684.2 M653.2,526.0 H684.2 M668.7,444.0 V466.0 M668.7,504.0 V526.0" stroke="#000000" stroke-width="5.4" fill="none"/>
<path d="M747.5,342.0 H778.5 M747.5,472.0 H778.5 M763.0,342.0 V388.0 M763.0,426.0 V472.0" stroke="#000000" stroke-width="5.4" fill="none"/>
<path d="M841.7,268.0 H872.7 M841.7,344.0 H872.7 M857.2,268.0 V287.0 M857.2,325.0 V344.0" stroke="#000000" stroke-width="5.4" fill="none"/>
<path d="M936.0,188.0 H967.0 M936.0,360.0 H967.0 M951.5,188.0 V255.0 M951.5,293.0 V360.0" stroke="#000000" stroke-width="5.4" fill="none"/>
<path d="M1030.2,183.0 H1061.2 M1030.2,323.0 H1061.2 M1045.7,183.0 V234.0 M1045.7,272.0 V323.0" stroke="#000000" stroke-width="5.4" fill="none"/>
<path d="M1124.5,171.0 H1155.5 M1124.5,259.0 H1155.5 M1140.0,171.0 V196.0 M1140.0,234.0 V259.0" stroke="#000000" stroke-width="5.4" fill="none"/>
<path d="M1218.7,171.0 H1249.7 M1218.7,211.0 H1249.7 M1234.2,171.0 V172.0 M1234.2,210.0 V211.0" stroke="#000000" stroke-width="5.4" fill="none"/>
<path d="M1313.0,175.0 H1344.0 M1313.0,205.0 H1344.0" stroke="#000000" stroke-width="5.4" fill="none"/>
<path d="M1407.2,175.0 H1438.2 M1407.2,205.0 H1438.2" stroke="#000000" stroke-width="5.4" fill="none"/>
<path d="M1501.5,165.0 H1532.5 M1501.5,189.0 H1532.5" stroke="#000000" stroke-width="5.4" fill="none"/>
<path d="M1595.7,165.0 H1626.7 M1595.7,215.0 H1626.7 M1611.2,165.0 V171.0 M1611.2,209.0 V215.0" stroke="#000000" stroke-width="5.4" fill="none"/>
<path d="M1690.0,168.0 H1721.0 M1690.0,212.0 H1721.0 M1705.5,168.0 V171.0 M1705.5,209.0 V212.0" stroke="#000000" stroke-width="5.4" fill="none"/>
<path d="M1784.2,172.0 H1815.2 M1784.2,202.0 H1815.2" stroke="#000000" stroke-width="5.4" fill="none"/>
<path d="M1878.5,178.5 H1909.5 M1878.5,191.5 H1909.5" stroke="#000000" stroke-width="5.4" fill="none"/>
<path d="M1972.7,178.0 H2003.7 M1972.7,192.0 H2003.7" stroke="#000000" stroke-width="5.4" fill="none"/>
<path d="M276.2,1204.0 H307.2 M276.2,1290.0 H307.2 M291.7,1204.0 V1225.5 M291.7,1268.5 V1290.0" stroke="#d01818" stroke-width="5.4" fill="none"/>
<path d="M370.4,988.0 H401.4 M370.4,1106.0 H401.4 M385.9,988.0 V1025.5 M385.9,1068.5 V1106.0" stroke="#d01818" stroke-width="5.4" fill="none"/>
<path d="M464.7,765.0 H495.7 M464.7,829.0 H495.7 M480.2,765.0 V775.5 M480.2,818.5 V829.0" stroke="#d01818" stroke-width="5.4" fill="none"/>
<path d="M559.0,586.0 H590.0 M559.0,686.0 H590.0 M574.5,586.0 V614.5 M574.5,657.5 V686.0" stroke="#d01818" stroke-width="5.4" fill="none"/>
<path d="M653.2,454.0 H684.2 M653.2,606.0 H684.2 M668.7,454.0 V508.5 M668.7,551.5 V606.0" stroke="#d01818" stroke-width="5.4" fill="none"/>
<path d="M747.5,378.0 H778.5 M747.5,450.0 H778.5 M763.0,378.0 V392.5 M763.0,435.5 V450.0" stroke="#d01818" stroke-width="5.4" fill="none"/>
<path d="M841.7,286.0 H872.7 M841.7,412.0 H872.7 M857.2,286.0 V327.5 M857.2,370.5 V412.0" stroke="#d01818" stroke-width="5.4" fill="none"/>
<path d="M936.0,201.0 H967.0 M936.0,299.0 H967.0 M951.5,201.0 V228.5 M951.5,271.5 V299.0" stroke="#d01818" stroke-width="5.4" fill="none"/>
<path d="M1030.2,201.0 H1061.2 M1030.2,259.0 H1061.2 M1045.7,201.0 V208.5 M1045.7,251.5 V259.0" stroke="#d01818" stroke-width="5.4" fill="none"/>
<path d="M1124.5,140.0 H1155.5 M1124.5,250.0 H1155.5 M1140.0,140.0 V173.5 M1140.0,216.5 V250.0" stroke="#d01818" stroke-width="5.4" fill="none"/>
<path d="M1218.7,153.0 H1249.7 M1218.7,305.0 H1249.7 M1234.2,153.0 V207.5 M1234.2,250.5 V305.0" stroke="#d01818" stroke-width="5.4" fill="none"/>
<path d="M1313.0,175.0 H1344.0 M1313.0,225.0 H1344.0 M1328.5,175.0 V178.5 M1328.5,221.5 V225.0" stroke="#d01818" stroke-width="5.4" fill="none"/>
<path d="M1407.2,178.0 H1438.2 M1407.2,208.0 H1438.2" stroke="#d01818" stroke-width="5.4" fill="none"/>
<path d="M1501.5,164.0 H1532.5 M1501.5,194.0 H1532.5" stroke="#d01818" stroke-width="5.4" fill="none"/>
<path d="M1595.7,126.0 H1626.7 M1595.7,252.0 H1626.7 M1611.2,126.0 V167.5 M1611.2,210.5 V252.0" stroke="#d01818" stroke-width="5.4" fill="none"/>
<path d="M1690.0,161.0 H1721.0 M1690.0,227.0 H1721.0 M1705.5,161.0 V172.5 M1705.5,215.5 V227.0" stroke="#d01818" stroke-width="5.4" fill="none"/>
<path d="M1784.2,165.0 H1815.2 M1784.2,205.0 H1815.2" stroke="#d01818" stroke-width="5.4" fill="none"/>
<path d="M1878.5,177.0 H1909.5 M1878.5,225.0 H1909.5 M1894.0,177.0 V179.5 M1894.0,222.5 V225.0" stroke="#d01818" stroke-width="5.4" fill="none"/>
<path d="M1972.7,170.0 H2003.7 M1972.7,242.0 H2003.7 M1988.2,170.0 V184.5 M1988.2,227.5 V242.0" stroke="#d01818" stroke-width="5.4" fill="none"/>
<path d="M276.2,1229.0 H307.2 M276.2,1311.0 H307.2 M291.7,1229.0 V1243.0 M291.7,1297.0 V1311.0" stroke="#0000c0" stroke-width="5.4" fill="none"/>
<path d="M370.4,1060.0 H401.4 M370.4,1142.0 H401.4 M385.9,1060.0 V1074.0 M385.9,1128.0 V1142.0" stroke="#0000c0" stroke-width="5.4" fill="none"/>
<path d="M464.7,903.0 H495.7 M464.7,967.0 H495.7 M480.2,903.0 V908.0 M480.2,962.0 V967.0" stroke="#0000c0" stroke-width="5.4" fill="none"/>
<path d="M559.0,692.0 H590.0 M559.0,834.0 H590.0 M574.5,692.0 V736.0 M574.5,790.0 V834.0" stroke="#0000c0" stroke-width="5.4" fill="none"/>
<path d="M653.2,608.0 H684.2 M653.2,734.0 H684.2 M668.7,608.0 V644.0 M668.7,698.0 V734.0" stroke="#0000c0" stroke-width="5.4" fill="none"/>
<path d="M747.5,545.0 H778.5 M747.5,617.0 H778.5 M763.0,545.0 V554.0 M763.0,608.0 V617.0" stroke="#0000c0" stroke-width="5.4" fill="none"/>
<path d="M841.7,377.0 H872.7 M841.7,543.0 H872.7 M857.2,377.0 V433.0 M857.2,487.0 V543.0" stroke="#0000c0" stroke-width="5.4" fill="none"/>
<path d="M936.0,327.0 H967.0 M936.0,451.0 H967.0 M951.5,327.0 V362.0 M951.5,416.0 V451.0" stroke="#0000c0" stroke-width="5.4" fill="none"/>
<path d="M1030.2,319.0 H1061.2 M1030.2,381.0 H1061.2 M1045.7,319.0 V323.0 M1045.7,377.0 V381.0" stroke="#0000c0" stroke-width="5.4" fill="none"/>
<path d="M1124.5,198.0 H1155.5 M1124.5,388.0 H1155.5 M1140.0,198.0 V266.0 M1140.0,320.0 V388.0" stroke="#0000c0" stroke-width="5.4" fill="none"/>
<path d="M1218.7,203.0 H1249.7 M1218.7,343.0 H1249.7 M1234.2,203.0 V246.0 M1234.2,300.0 V343.0" stroke="#0000c0" stroke-width="5.4" fill="none"/>
<path d="M1313.0,199.0 H1344.0 M1313.0,261.0 H1344.0 M1328.5,199.0 V203.0 M1328.5,257.0 V261.0" stroke="#0000c0" stroke-width="5.4" fill="none"/>
<path d="M1407.2,178.0 H1438.2 M1407.2,232.0 H1438.2" stroke="#0000c0" stroke-width="5.4" fill="none"/>
<path d="M1501.5,185.0 H1532.5 M1501.5,215.0 H1532.5" stroke="#0000c0" stroke-width="5.4" fill="none"/>
<path d="M1595.7,163.0 H1626.7 M1595.7,265.0 H1626.7 M1611.2,163.0 V187.0 M1611.2,241.0 V265.0" stroke="#0000c0" stroke-width="5.4" fill="none"/>
<path d="M1690.0,133.0 H1721.0 M1690.0,237.0 H1721.0 M1705.5,133.0 V158.0 M1705.5,212.0 V237.0" stroke="#0000c0" stroke-width="5.4" fill="none"/>
<path d="M1784.2,154.0 H1815.2 M1784.2,210.0 H1815.2 M1799.7,154.0 V155.0 M1799.7,209.0 V210.0" stroke="#0000c0" stroke-width="5.4" fill="none"/>
<path d="M1878.5,178.0 H1909.5 M1878.5,230.0 H1909.5" stroke="#0000c0" stroke-width="5.4" fill="none"/>
<path d="M1972.7,133.0 H2003.7 M1972.7,235.0 H2003.7 M1988.2,133.0 V157.0 M1988.2,211.0 V235.0" stroke="#0000c0" stroke-width="5.4" fill="none"/>
<path d="M276.2,1247.0 H307.2 M276.2,1301.0 H307.2" stroke="#1e6e1e" stroke-width="5.4" fill="none"/>
<path d="M370.4,1134.0 H401.4 M370.4,1190.0 H401.4 M385.9,1134.0 V1135.0 M385.9,1189.0 V1190.0" stroke="#1e6e1e" stroke-width="5.4" fill="none"/>
<path d="M464.7,941.0 H495.7 M464.7,1095.0 H495.7 M480.2,941.0 V991.0 M480.2,1045.0 V1095.0" stroke="#1e6e1e" stroke-width="5.4" fill="none"/>
<path d="M559.0,864.0 H590.0 M559.0,964.0 H590.0 M574.5,864.0 V887.0 M574.5,941.0 V964.0" stroke="#1e6e1e" stroke-width="5.4" fill="none"/>
<path d="M653.2,752.0 H684.2 M653.2,962.0 H684.2 M668.7,752.0 V830.0 M668.7,884.0 V962.0" stroke="#1e6e1e" stroke-width="5.4" fill="none"/>
<path d="M747.5,682.0 H778.5 M747.5,948.0 H778.5 M763.0,682.0 V788.0 M763.0,842.0 V948.0" stroke="#1e6e1e" stroke-width="5.4" fill="none"/>
<path d="M841.7,543.0 H872.7 M841.7,935.0 H872.7 M857.2,543.0 V712.0 M857.2,766.0 V935.0" stroke="#1e6e1e" stroke-width="5.4" fill="none"/>
<path d="M936.0,415.0 H967.0 M936.0,717.0 H967.0 M951.5,415.0 V539.0 M951.5,593.0 V717.0" stroke="#1e6e1e" stroke-width="5.4" fill="none"/>
<path d="M1030.2,389.0 H1061.2 M1030.2,509.0 H1061.2 M1045.7,389.0 V422.0 M1045.7,476.0 V509.0" stroke="#1e6e1e" stroke-width="5.4" fill="none"/>
<path d="M1124.5,345.0 H1155.5 M1124.5,415.0 H1155.5 M1140.0,345.0 V353.0 M1140.0,407.0 V415.0" stroke="#1e6e1e" stroke-width="5.4" fill="none"/>
<path d="M1218.7,301.0 H1249.7 M1218.7,395.0 H1249.7 M1234.2,301.0 V321.0 M1234.2,375.0 V395.0" stroke="#1e6e1e" stroke-width="5.4" fill="none"/>
<path d="M1313.0,238.0 H1344.0 M1313.0,364.0 H1344.0 M1328.5,238.0 V274.0 M1328.5,328.0 V364.0" stroke="#1e6e1e" stroke-width="5.4" fill="none"/>
<path d="M1407.2,167.0 H1438.2 M1407.2,321.0 H1438.2 M1422.7,167.0 V217.0 M1422.7,271.0 V321.0" stroke="#1e6e1e" stroke-width="5.4" fill="none"/>
<path d="M1501.5,155.0 H1532.5 M1501.5,289.0 H1532.5 M1517.0,155.0 V195.0 M1517.0,249.0 V289.0" stroke="#1e6e1e" stroke-width="5.4" fill="none"/>
<path d="M1595.7,180.0 H1626.7 M1595.7,210.0 H1626.7" stroke="#1e6e1e" stroke-width="5.4" fill="none"/>
<path d="M1690.0,179.0 H1721.0 M1690.0,209.0 H1721.0" stroke="#1e6e1e" stroke-width="5.4" fill="none"/>
<path d="M1784.2,151.0 H1815.2 M1784.2,233.0 H1815.2 M1799.7,151.0 V165.0 M1799.7,219.0 V233.0" stroke="#1e6e1e" stroke-width="5.4" fill="none"/>
<path d="M1878.5,151.0 H1909.5 M1878.5,235.0 H1909.5 M1894.0,151.0 V166.0 M1894.0,220.0 V235.0" stroke="#1e6e1e" stroke-width="5.4" fill="none"/>
<path d="M1972.7,163.0 H2003.7 M1972.7,193.0 H2003.7" stroke="#1e6e1e" stroke-width="5.4" fill="none"/>
</g>
<text x="246" y="1372.8" font-family="Liberation Serif, serif" font-weight="bold" font-size="77.5" text-anchor="end">20</text>
<text x="246" y="1082.2" font-family="Liberation Serif, serif" font-weight="bold" font-size="77.5" text-anchor="end">40</text>
<text x="246" y="791.6" font-family="Liberation Serif, serif" font-weight="bold" font-size="77.5" text-anchor="end">60</text>
<text x="246" y="500.9" font-family="Liberation Serif, serif" font-weight="bold" font-size="77.5" text-anchor="end">80</text>
<text x="246" y="210.3" font-family="Liberation Serif, serif" font-weight="bold" font-size="77.5" text-anchor="end">100</text>
<text x="291.7" y="1454" font-family="Liberation Serif, serif" font-weight="bold" font-size="77.5" text-anchor="middle">0</text>
<text x="668.7" y="1454" font-family="Liberation Serif, serif" font-weight="bold" font-size="77.5" text-anchor="middle">20</text>
<text x="1045.7" y="1454" font-family="Liberation Serif, serif" font-weight="bold" font-size="77.5" text-anchor="middle">40</text>
<text x="1422.7" y="1454" font-family="Liberation Serif, serif" font-weight="bold" font-size="77.5" text-anchor="middle">60</text>
<text x="1799.7" y="1454" font-family="Liberation Serif, serif" font-weight="bold" font-size="77.5" text-anchor="middle">80</text>
<text x="1186.5" y="1585" font-family="Liberation Serif, serif" font-weight="bold" font-size="77" text-anchor="middle">Time (s)</text>
<text transform="translate(96.5,696) rotate(-90) scale(1.03,1)" font-family="Liberation Serif, serif" font-weight="bold" font-size="82" text-anchor="middle">Temperature (&#176;C)</text>
<rect x="1453" y="983.7" width="163" height="6.6" fill="#000000"/>
<rect x="1515.5" y="968.0" width="38.0" height="38.0" fill="#000000"/>
<text x="1631" y="1009.2" font-family="Liberation Serif, serif" font-weight="bold" font-size="57.5">FM</text>
<rect x="1453" y="1073.4" width="163" height="6.6" fill="#ff0000"/>
<circle cx="1534.5" cy="1076.7" r="21.5" fill="#ff0000"/>
<text x="1631" y="1098.9" font-family="Liberation Serif, serif" font-weight="bold" font-size="57.5">FM_NPCMs10</text>
<rect x="1453" y="1162.2" width="163" height="6.6" fill="#0000ff"/>
<polygon points="1534.5,1137.5 1560.5,1179.5 1508.5,1179.5" fill="#0000ff"/>
<text x="1631" y="1187.7" font-family="Liberation Serif, serif" font-weight="bold" font-size="57.5">FM_NPCMs20</text>
<rect x="1453" y="1251.0" width="163" height="6.6" fill="#008000"/>
<polygon points="1534.5,1282.3 1560.5,1240.3 1508.5,1240.3" fill="#008000"/>
<text x="1631" y="1276.5" font-family="Liberation Serif, serif" font-weight="bold" font-size="57.5">FM_NPCMs30</text></svg></body></html>
